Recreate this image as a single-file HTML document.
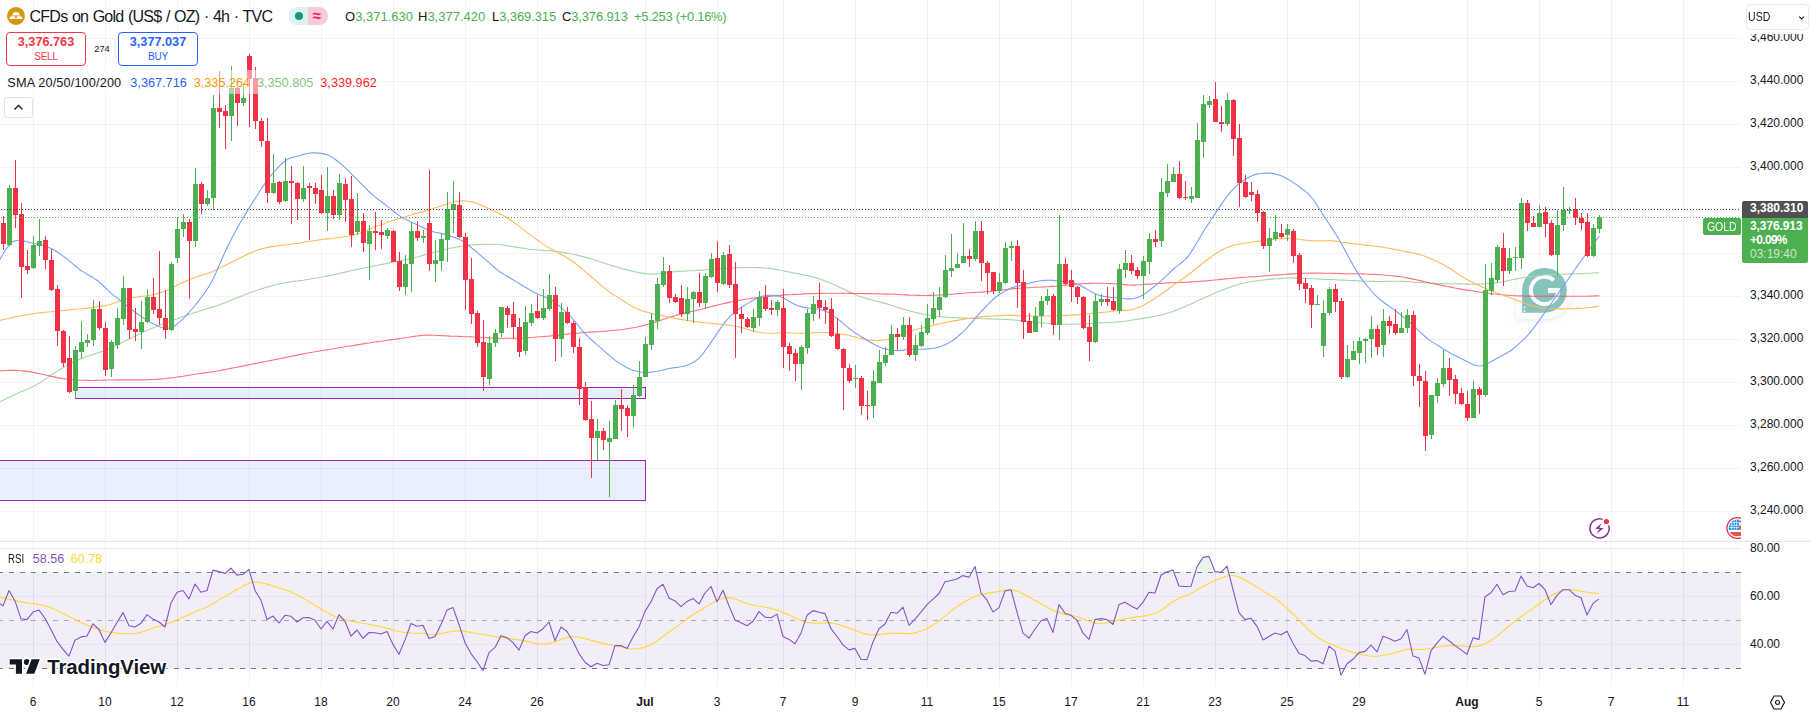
<!DOCTYPE html>
<html><head><meta charset="utf-8"><title>Gold chart</title>
<style>
html,body{margin:0;padding:0;background:#fff;}
body{width:1811px;height:712px;position:relative;overflow:hidden;font-family:"Liberation Sans",sans-serif;color:#131722;}
.abs{position:absolute;white-space:nowrap;}
.pl{position:absolute;left:1750px;font-size:12px;line-height:14px;color:#131722;}
.tl{position:absolute;top:695px;font-size:12px;line-height:14px;color:#131722;transform:translateX(-50%);}
</style></head><body>
<svg width="1811" height="712" viewBox="0 0 1811 712" style="position:absolute;left:0;top:0">
<rect width="1811" height="712" fill="#fff"/>
<defs><clipPath id="cp"><rect x="0" y="0" width="1741" height="541"/></clipPath><clipPath id="cr"><rect x="0" y="542" width="1741" height="146"/></clipPath></defs>
<rect x="33" y="0" width="1" height="687" fill="rgba(42,46,57,0.06)"/>
<rect x="105" y="0" width="1" height="687" fill="rgba(42,46,57,0.06)"/>
<rect x="177" y="0" width="1" height="687" fill="rgba(42,46,57,0.06)"/>
<rect x="249" y="0" width="1" height="687" fill="rgba(42,46,57,0.06)"/>
<rect x="321" y="0" width="1" height="687" fill="rgba(42,46,57,0.06)"/>
<rect x="393" y="0" width="1" height="687" fill="rgba(42,46,57,0.06)"/>
<rect x="465" y="0" width="1" height="687" fill="rgba(42,46,57,0.06)"/>
<rect x="537" y="0" width="1" height="687" fill="rgba(42,46,57,0.06)"/>
<rect x="645" y="0" width="1" height="687" fill="rgba(42,46,57,0.06)"/>
<rect x="717" y="0" width="1" height="687" fill="rgba(42,46,57,0.06)"/>
<rect x="783" y="0" width="1" height="687" fill="rgba(42,46,57,0.06)"/>
<rect x="855" y="0" width="1" height="687" fill="rgba(42,46,57,0.06)"/>
<rect x="927" y="0" width="1" height="687" fill="rgba(42,46,57,0.06)"/>
<rect x="999" y="0" width="1" height="687" fill="rgba(42,46,57,0.06)"/>
<rect x="1071" y="0" width="1" height="687" fill="rgba(42,46,57,0.06)"/>
<rect x="1143" y="0" width="1" height="687" fill="rgba(42,46,57,0.06)"/>
<rect x="1215" y="0" width="1" height="687" fill="rgba(42,46,57,0.06)"/>
<rect x="1287" y="0" width="1" height="687" fill="rgba(42,46,57,0.06)"/>
<rect x="1359" y="0" width="1" height="687" fill="rgba(42,46,57,0.06)"/>
<rect x="1467" y="0" width="1" height="687" fill="rgba(42,46,57,0.06)"/>
<rect x="1539" y="0" width="1" height="687" fill="rgba(42,46,57,0.06)"/>
<rect x="1611" y="0" width="1" height="687" fill="rgba(42,46,57,0.06)"/>
<rect x="1683" y="0" width="1" height="687" fill="rgba(42,46,57,0.06)"/>
<rect x="0" y="38" width="1741" height="1" fill="rgba(42,46,57,0.06)"/>
<rect x="0" y="81" width="1741" height="1" fill="rgba(42,46,57,0.06)"/>
<rect x="0" y="124" width="1741" height="1" fill="rgba(42,46,57,0.06)"/>
<rect x="0" y="167" width="1741" height="1" fill="rgba(42,46,57,0.06)"/>
<rect x="0" y="210" width="1741" height="1" fill="rgba(42,46,57,0.06)"/>
<rect x="0" y="253" width="1741" height="1" fill="rgba(42,46,57,0.06)"/>
<rect x="0" y="296" width="1741" height="1" fill="rgba(42,46,57,0.06)"/>
<rect x="0" y="339" width="1741" height="1" fill="rgba(42,46,57,0.06)"/>
<rect x="0" y="382" width="1741" height="1" fill="rgba(42,46,57,0.06)"/>
<rect x="0" y="425" width="1741" height="1" fill="rgba(42,46,57,0.06)"/>
<rect x="0" y="468" width="1741" height="1" fill="rgba(42,46,57,0.06)"/>
<rect x="0" y="511" width="1741" height="1" fill="rgba(42,46,57,0.06)"/>
<rect x="0" y="572" width="1741" height="97" fill="#7e57c2" fill-opacity="0.1"/>
<rect x="0" y="548" width="1741" height="1" fill="#e4e2f0" fill-opacity="0.9"/>
<rect x="0" y="596" width="1741" height="1" fill="#e4e2f0" fill-opacity="0.9"/>
<rect x="0" y="644" width="1741" height="1" fill="#e4e2f0" fill-opacity="0.9"/>
<rect x="33" y="572" width="1" height="97" fill="#dcd8ea" fill-opacity="0.5"/>
<rect x="105" y="572" width="1" height="97" fill="#dcd8ea" fill-opacity="0.5"/>
<rect x="177" y="572" width="1" height="97" fill="#dcd8ea" fill-opacity="0.5"/>
<rect x="249" y="572" width="1" height="97" fill="#dcd8ea" fill-opacity="0.5"/>
<rect x="321" y="572" width="1" height="97" fill="#dcd8ea" fill-opacity="0.5"/>
<rect x="393" y="572" width="1" height="97" fill="#dcd8ea" fill-opacity="0.5"/>
<rect x="465" y="572" width="1" height="97" fill="#dcd8ea" fill-opacity="0.5"/>
<rect x="537" y="572" width="1" height="97" fill="#dcd8ea" fill-opacity="0.5"/>
<rect x="645" y="572" width="1" height="97" fill="#dcd8ea" fill-opacity="0.5"/>
<rect x="717" y="572" width="1" height="97" fill="#dcd8ea" fill-opacity="0.5"/>
<rect x="783" y="572" width="1" height="97" fill="#dcd8ea" fill-opacity="0.5"/>
<rect x="855" y="572" width="1" height="97" fill="#dcd8ea" fill-opacity="0.5"/>
<rect x="927" y="572" width="1" height="97" fill="#dcd8ea" fill-opacity="0.5"/>
<rect x="999" y="572" width="1" height="97" fill="#dcd8ea" fill-opacity="0.5"/>
<rect x="1071" y="572" width="1" height="97" fill="#dcd8ea" fill-opacity="0.5"/>
<rect x="1143" y="572" width="1" height="97" fill="#dcd8ea" fill-opacity="0.5"/>
<rect x="1215" y="572" width="1" height="97" fill="#dcd8ea" fill-opacity="0.5"/>
<rect x="1287" y="572" width="1" height="97" fill="#dcd8ea" fill-opacity="0.5"/>
<rect x="1359" y="572" width="1" height="97" fill="#dcd8ea" fill-opacity="0.5"/>
<rect x="1467" y="572" width="1" height="97" fill="#dcd8ea" fill-opacity="0.5"/>
<rect x="1539" y="572" width="1" height="97" fill="#dcd8ea" fill-opacity="0.5"/>
<rect x="1611" y="572" width="1" height="97" fill="#dcd8ea" fill-opacity="0.5"/>
<rect x="1683" y="572" width="1" height="97" fill="#dcd8ea" fill-opacity="0.5"/>
<rect x="0" y="540.8" width="1811" height="1" fill="#e0e3eb"/>
<rect x="75.500" y="387.5" width="570" height="11" fill="#2962ff" fill-opacity="0.1" stroke="#9c27b0" stroke-width="1"/>
<rect x="-5.500" y="460.5" width="651" height="40" fill="#2962ff" fill-opacity="0.1" stroke="#9c27b0" stroke-width="1"/>
<defs><filter id="sh" x="-30%" y="-30%" width="160%" height="160%"><feGaussianBlur stdDeviation="2.500"/></filter></defs>
<path d="M1515.5,290.3 A29,29 0 0 1 1573.5,290.3 A29,29 0 0 1 1544.5,319.3 L1515.5,319.3 Z" transform="translate(0,2)" fill="#000" fill-opacity="0.07" filter="url(#sh)"/>
<path d="M1515.9,290.3 A28.6,28.6 0 0 1 1573.1,290.3 A28.6,28.6 0 0 1 1544.5,318.9 L1515.9,318.9 Z" fill="#fff" fill-opacity="0.8"/>
<path d="M1522.1,290.3 A22.4,22.4 0 0 1 1566.9,290.3 A22.4,22.4 0 0 1 1544.5,312.7 L1522.1,312.7 Z" fill="#80c1b9" fill-opacity="0.96"/>
<path d="M1553.8,280.3 A13.7,13.7 0 1 0 1558.2,291.8" fill="none" stroke="#fff" stroke-opacity="0.92" stroke-width="4"/>
<path d="M1548.0,288.1 L1560.5,288.1 L1559.0,293.1 L1548.0,293.1 Z" fill="#fff" fill-opacity="0.92"/>
<circle cx="1524.4" cy="307.5" r="1" fill="#fff" fill-opacity="0.9"/><circle cx="1524.4" cy="311" r="1" fill="#fff" fill-opacity="0.9"/>
<g clip-path="url(#cp)" fill="none" stroke-linejoin="round" stroke-linecap="round">
<path d="M0.0,401.8 L3.0,400.3 L6.0,398.8 L9.0,397.3 L12.0,395.9 L15.0,394.4 L18.0,393.0 L21.0,391.7 L24.0,390.4 L27.0,389.2 L30.0,387.9 L33.0,386.6 L36.0,385.0 L39.0,383.3 L42.0,381.4 L45.0,379.4 L48.0,377.4 L51.0,375.3 L54.0,373.3 L57.0,371.4 L60.0,369.5 L63.0,367.7 L66.0,365.9 L69.0,364.2 L72.0,362.7 L75.0,361.3 L78.0,360.0 L81.0,358.8 L84.0,357.7 L87.0,356.6 L90.0,355.6 L93.0,354.5 L96.0,353.5 L99.0,352.5 L102.0,351.4 L105.0,350.3 L108.0,349.2 L111.0,347.9 L114.0,346.6 L117.0,345.1 L120.0,343.6 L123.0,342.1 L126.0,340.6 L129.0,339.1 L132.0,337.7 L135.0,336.2 L138.0,334.7 L141.0,333.2 L144.0,331.8 L147.0,330.4 L150.0,329.1 L153.0,327.9 L156.0,326.7 L159.0,325.5 L162.0,324.3 L165.0,323.2 L168.0,322.0 L171.0,320.9 L174.0,319.8 L177.0,318.8 L180.0,317.7 L183.0,316.6 L186.0,315.6 L189.0,314.6 L192.0,313.6 L195.0,312.5 L198.0,311.6 L201.0,310.6 L204.0,309.6 L207.0,308.7 L210.0,307.8 L213.0,306.9 L216.0,305.9 L219.0,304.9 L222.0,303.8 L225.0,302.7 L228.0,301.5 L231.0,300.3 L234.0,299.1 L237.0,297.9 L240.0,296.7 L243.0,295.5 L246.0,294.3 L249.0,293.1 L252.0,292.0 L255.0,290.9 L258.0,289.9 L261.0,288.9 L264.0,288.0 L267.0,287.1 L270.0,286.2 L273.0,285.4 L276.0,284.7 L279.0,284.0 L282.0,283.4 L285.0,282.8 L288.0,282.3 L291.0,281.9 L294.0,281.4 L297.0,281.0 L300.0,280.6 L303.0,280.2 L306.0,279.7 L309.0,279.3 L312.0,278.8 L315.0,278.3 L318.0,277.8 L321.0,277.3 L324.0,276.7 L327.0,276.1 L330.0,275.5 L333.0,274.9 L336.0,274.2 L339.0,273.5 L342.0,272.9 L345.0,272.1 L348.0,271.4 L351.0,270.7 L354.0,270.1 L357.0,269.4 L360.0,268.8 L363.0,268.2 L366.0,267.6 L369.0,267.0 L372.0,266.4 L375.0,265.8 L378.0,265.2 L381.0,264.6 L384.0,264.0 L387.0,263.4 L390.0,262.8 L393.0,262.2 L396.0,261.6 L399.0,261.0 L402.0,260.4 L405.0,259.7 L408.0,259.1 L411.0,258.4 L414.0,257.7 L417.0,257.0 L420.0,256.2 L423.0,255.4 L426.0,254.6 L429.0,253.8 L432.0,252.9 L435.0,252.1 L438.0,251.2 L441.0,250.4 L444.0,249.7 L447.0,249.0 L450.0,248.3 L453.0,247.7 L456.0,247.2 L459.0,246.6 L462.0,246.2 L465.0,245.7 L468.0,245.4 L471.0,245.1 L474.0,244.8 L477.0,244.6 L480.0,244.4 L483.0,244.3 L486.0,244.2 L489.0,244.2 L492.0,244.2 L495.0,244.3 L498.0,244.5 L501.0,244.8 L504.0,245.2 L507.0,245.6 L510.0,246.1 L513.0,246.6 L516.0,247.1 L519.0,247.6 L522.0,248.0 L525.0,248.5 L528.0,249.0 L531.0,249.4 L534.0,249.7 L537.0,250.0 L540.0,250.2 L543.0,250.4 L546.0,250.5 L549.0,250.7 L552.0,250.9 L555.0,251.3 L558.0,251.7 L561.0,252.1 L564.0,252.6 L567.0,253.1 L570.0,253.7 L573.0,254.3 L576.0,254.9 L579.0,255.6 L582.0,256.4 L585.0,257.1 L588.0,257.9 L591.0,258.8 L594.0,259.7 L597.0,260.7 L600.0,261.7 L603.0,262.7 L606.0,263.7 L609.0,264.7 L612.0,265.6 L615.0,266.5 L618.0,267.4 L621.0,268.3 L624.0,269.1 L627.0,269.9 L630.0,270.6 L633.0,271.3 L636.0,272.0 L639.0,272.6 L642.0,273.1 L645.0,273.6 L648.0,273.9 L651.0,274.1 L654.0,274.0 L657.0,273.9 L660.0,273.5 L663.0,273.1 L666.0,272.6 L669.0,272.2 L672.0,271.9 L675.0,271.7 L678.0,271.4 L681.0,271.3 L684.0,271.1 L687.0,271.0 L690.0,270.8 L693.0,270.7 L696.0,270.5 L699.0,270.3 L702.0,270.1 L705.0,269.8 L708.0,269.5 L711.0,269.3 L714.0,269.0 L717.0,268.8 L720.0,268.6 L723.0,268.5 L726.0,268.3 L729.0,268.1 L732.0,268.0 L735.0,267.9 L738.0,267.8 L741.0,267.7 L744.0,267.6 L747.0,267.5 L750.0,267.5 L753.0,267.5 L756.0,267.5 L759.0,267.6 L762.0,267.7 L765.0,268.0 L768.0,268.2 L771.0,268.6 L774.0,269.1 L777.0,269.6 L780.0,270.2 L783.0,270.8 L786.0,271.4 L789.0,272.0 L792.0,272.6 L795.0,273.2 L798.0,273.8 L801.0,274.4 L804.0,275.0 L807.0,275.6 L810.0,276.3 L813.0,277.0 L816.0,277.9 L819.0,278.8 L822.0,279.8 L825.0,280.9 L828.0,282.1 L831.0,283.3 L834.0,284.6 L837.0,286.0 L840.0,287.4 L843.0,288.8 L846.0,290.3 L849.0,291.7 L852.0,293.1 L855.0,294.5 L858.0,295.7 L861.0,296.8 L864.0,297.7 L867.0,298.6 L870.0,299.5 L873.0,300.3 L876.0,301.1 L879.0,301.8 L882.0,302.6 L885.0,303.4 L888.0,304.3 L891.0,305.3 L894.0,306.2 L897.0,307.2 L900.0,308.1 L903.0,309.0 L906.0,309.9 L909.0,310.7 L912.0,311.5 L915.0,312.3 L918.0,313.0 L921.0,313.7 L924.0,314.3 L927.0,314.9 L930.0,315.4 L933.0,315.8 L936.0,316.3 L939.0,316.6 L942.0,316.9 L945.0,317.1 L948.0,317.3 L951.0,317.5 L954.0,317.6 L957.0,317.8 L960.0,317.9 L963.0,318.0 L966.0,318.1 L969.0,318.2 L972.0,318.4 L975.0,318.5 L978.0,318.6 L981.0,318.7 L984.0,318.8 L987.0,318.9 L990.0,318.9 L993.0,319.0 L996.0,319.1 L999.0,319.2 L1002.0,319.3 L1005.0,319.4 L1008.0,319.6 L1011.0,319.8 L1014.0,320.0 L1017.0,320.3 L1020.0,320.6 L1023.0,320.9 L1026.0,321.2 L1029.0,321.5 L1032.0,321.8 L1035.0,322.1 L1038.0,322.4 L1041.0,322.7 L1044.0,323.0 L1047.0,323.3 L1050.0,323.5 L1053.0,323.8 L1056.0,324.0 L1059.0,324.1 L1062.0,324.2 L1065.0,324.3 L1068.0,324.3 L1071.0,324.3 L1074.0,324.2 L1077.0,324.1 L1080.0,324.0 L1083.0,323.8 L1086.0,323.7 L1089.0,323.5 L1092.0,323.4 L1095.0,323.2 L1098.0,323.0 L1101.0,322.9 L1104.0,322.8 L1107.0,322.6 L1110.0,322.5 L1113.0,322.3 L1116.0,322.2 L1119.0,321.9 L1122.0,321.7 L1125.0,321.3 L1128.0,320.8 L1131.0,320.3 L1134.0,319.8 L1137.0,319.3 L1140.0,318.9 L1143.0,318.4 L1146.0,317.9 L1149.0,317.4 L1152.0,316.9 L1155.0,316.3 L1158.0,315.7 L1161.0,315.1 L1164.0,314.3 L1167.0,313.5 L1170.0,312.5 L1173.0,311.4 L1176.0,310.2 L1179.0,309.0 L1182.0,307.8 L1185.0,306.5 L1188.0,305.2 L1191.0,303.9 L1194.0,302.5 L1197.0,301.1 L1200.0,299.8 L1203.0,298.4 L1206.0,297.1 L1209.0,295.7 L1212.0,294.4 L1215.0,293.1 L1218.0,291.8 L1221.0,290.6 L1224.0,289.4 L1227.0,288.3 L1230.0,287.2 L1233.0,286.1 L1236.0,285.2 L1239.0,284.3 L1242.0,283.5 L1245.0,282.8 L1248.0,282.3 L1251.0,281.7 L1254.0,281.2 L1257.0,280.7 L1260.0,280.3 L1263.0,280.0 L1266.0,279.7 L1269.0,279.4 L1272.0,279.1 L1275.0,278.8 L1278.0,278.6 L1281.0,278.4 L1284.0,278.2 L1287.0,278.0 L1290.0,277.9 L1293.0,277.8 L1296.0,277.9 L1299.0,278.0 L1302.0,278.2 L1305.0,278.3 L1308.0,278.5 L1311.0,278.7 L1314.0,278.8 L1317.0,279.0 L1320.0,279.1 L1323.0,279.2 L1326.0,279.4 L1329.0,279.5 L1332.0,279.6 L1335.0,279.7 L1338.0,279.9 L1341.0,280.0 L1344.0,280.1 L1347.0,280.3 L1350.0,280.5 L1353.0,280.6 L1356.0,280.8 L1359.0,280.9 L1362.0,281.1 L1365.0,281.2 L1368.0,281.3 L1371.0,281.4 L1374.0,281.4 L1377.0,281.5 L1380.0,281.5 L1383.0,281.5 L1386.0,281.4 L1389.0,281.4 L1392.0,281.3 L1395.0,281.2 L1398.0,281.2 L1401.0,281.2 L1404.0,281.4 L1407.0,281.6 L1410.0,281.8 L1413.0,282.1 L1416.0,282.3 L1419.0,282.5 L1422.0,282.6 L1425.0,282.8 L1428.0,282.9 L1431.0,283.1 L1434.0,283.2 L1437.0,283.4 L1440.0,283.5 L1443.0,283.6 L1446.0,283.7 L1449.0,283.8 L1452.0,283.8 L1455.0,283.8 L1458.0,283.9 L1461.0,283.9 L1464.0,284.0 L1467.0,284.1 L1470.0,284.2 L1473.0,284.2 L1476.0,284.2 L1479.0,284.1 L1482.0,284.0 L1485.0,283.8 L1488.0,283.6 L1491.0,283.4 L1494.0,283.1 L1497.0,282.7 L1500.0,282.3 L1503.0,281.8 L1506.0,281.2 L1509.0,280.5 L1512.0,279.8 L1515.0,279.2 L1518.0,278.6 L1521.0,278.0 L1524.0,277.5 L1527.0,277.1 L1530.0,276.6 L1533.0,276.2 L1536.0,275.9 L1539.0,275.6 L1542.0,275.3 L1545.0,275.0 L1548.0,274.8 L1551.0,274.6 L1554.0,274.5 L1557.0,274.4 L1560.0,274.3 L1563.0,274.2 L1566.0,274.1 L1569.0,274.0 L1572.0,273.9 L1575.0,273.8 L1578.0,273.7 L1581.0,273.6 L1584.0,273.5 L1587.0,273.3 L1590.0,273.2 L1593.0,273.0 L1596.0,272.9 L1599.0,272.7" stroke="#a5d6a7" stroke-width="1.1"/>
<path d="M0.0,370.8 L3.0,370.7 L6.0,370.5 L9.0,370.4 L12.0,370.4 L15.0,370.4 L18.0,370.5 L21.0,370.8 L24.0,371.1 L27.0,371.4 L30.0,371.9 L33.0,372.4 L36.0,372.9 L39.0,373.5 L42.0,374.2 L45.0,374.8 L48.0,375.5 L51.0,376.2 L54.0,376.9 L57.0,377.6 L60.0,378.1 L63.0,378.6 L66.0,379.0 L69.0,379.4 L72.0,379.7 L75.0,379.9 L78.0,380.1 L81.0,380.2 L84.0,380.3 L87.0,380.4 L90.0,380.5 L93.0,380.5 L96.0,380.4 L99.0,380.3 L102.0,380.2 L105.0,380.1 L108.0,380.0 L111.0,380.0 L114.0,380.0 L117.0,379.9 L120.0,379.9 L123.0,379.9 L126.0,379.9 L129.0,379.9 L132.0,379.9 L135.0,379.9 L138.0,379.9 L141.0,379.9 L144.0,379.9 L147.0,379.8 L150.0,379.6 L153.0,379.5 L156.0,379.3 L159.0,379.1 L162.0,378.9 L165.0,378.6 L168.0,378.2 L171.0,377.9 L174.0,377.5 L177.0,377.0 L180.0,376.6 L183.0,376.2 L186.0,375.7 L189.0,375.2 L192.0,374.8 L195.0,374.3 L198.0,373.8 L201.0,373.4 L204.0,372.9 L207.0,372.5 L210.0,372.1 L213.0,371.6 L216.0,371.2 L219.0,370.7 L222.0,370.1 L225.0,369.6 L228.0,369.0 L231.0,368.4 L234.0,367.8 L237.0,367.2 L240.0,366.6 L243.0,366.0 L246.0,365.4 L249.0,364.8 L252.0,364.2 L255.0,363.6 L258.0,363.0 L261.0,362.4 L264.0,361.8 L267.0,361.2 L270.0,360.6 L273.0,360.0 L276.0,359.4 L279.0,358.8 L282.0,358.2 L285.0,357.6 L288.0,357.0 L291.0,356.4 L294.0,355.7 L297.0,355.1 L300.0,354.5 L303.0,353.9 L306.0,353.3 L309.0,352.8 L312.0,352.3 L315.0,351.8 L318.0,351.2 L321.0,350.7 L324.0,350.2 L327.0,349.7 L330.0,349.2 L333.0,348.7 L336.0,348.2 L339.0,347.8 L342.0,347.3 L345.0,346.8 L348.0,346.3 L351.0,345.8 L354.0,345.4 L357.0,344.9 L360.0,344.4 L363.0,343.9 L366.0,343.4 L369.0,343.0 L372.0,342.5 L375.0,342.0 L378.0,341.6 L381.0,341.2 L384.0,340.7 L387.0,340.3 L390.0,339.9 L393.0,339.5 L396.0,339.1 L399.0,338.6 L402.0,338.2 L405.0,337.7 L408.0,337.3 L411.0,336.8 L414.0,336.4 L417.0,336.0 L420.0,335.6 L423.0,335.3 L426.0,335.1 L429.0,335.1 L432.0,335.2 L435.0,335.3 L438.0,335.5 L441.0,335.6 L444.0,335.8 L447.0,335.9 L450.0,336.1 L453.0,336.2 L456.0,336.3 L459.0,336.4 L462.0,336.6 L465.0,336.7 L468.0,336.8 L471.0,336.9 L474.0,337.0 L477.0,337.2 L480.0,337.3 L483.0,337.5 L486.0,337.6 L489.0,337.8 L492.0,338.0 L495.0,338.1 L498.0,338.2 L501.0,338.3 L504.0,338.3 L507.0,338.3 L510.0,338.3 L513.0,338.3 L516.0,338.2 L519.0,338.1 L522.0,338.0 L525.0,337.8 L528.0,337.6 L531.0,337.5 L534.0,337.3 L537.0,337.0 L540.0,336.8 L543.0,336.6 L546.0,336.3 L549.0,336.1 L552.0,335.8 L555.0,335.5 L558.0,335.2 L561.0,334.8 L564.0,334.5 L567.0,334.1 L570.0,333.8 L573.0,333.5 L576.0,333.2 L579.0,333.0 L582.0,332.7 L585.0,332.5 L588.0,332.3 L591.0,332.1 L594.0,331.9 L597.0,331.7 L600.0,331.5 L603.0,331.3 L606.0,331.1 L609.0,330.8 L612.0,330.6 L615.0,330.3 L618.0,330.0 L621.0,329.7 L624.0,329.3 L627.0,328.8 L630.0,328.3 L633.0,327.8 L636.0,327.2 L639.0,326.5 L642.0,325.9 L645.0,325.1 L648.0,324.3 L651.0,323.4 L654.0,322.5 L657.0,321.6 L660.0,320.6 L663.0,319.5 L666.0,318.5 L669.0,317.5 L672.0,316.6 L675.0,315.8 L678.0,314.9 L681.0,314.2 L684.0,313.4 L687.0,312.7 L690.0,311.9 L693.0,311.2 L696.0,310.5 L699.0,309.7 L702.0,309.0 L705.0,308.2 L708.0,307.4 L711.0,306.7 L714.0,305.9 L717.0,305.2 L720.0,304.5 L723.0,303.8 L726.0,303.1 L729.0,302.4 L732.0,301.8 L735.0,301.2 L738.0,300.6 L741.0,300.0 L744.0,299.5 L747.0,299.0 L750.0,298.5 L753.0,298.1 L756.0,297.7 L759.0,297.3 L762.0,297.0 L765.0,296.7 L768.0,296.4 L771.0,296.1 L774.0,295.9 L777.0,295.6 L780.0,295.4 L783.0,295.1 L786.0,294.9 L789.0,294.7 L792.0,294.6 L795.0,294.4 L798.0,294.2 L801.0,294.1 L804.0,293.9 L807.0,293.8 L810.0,293.7 L813.0,293.6 L816.0,293.5 L819.0,293.4 L822.0,293.4 L825.0,293.3 L828.0,293.3 L831.0,293.3 L834.0,293.3 L837.0,293.3 L840.0,293.3 L843.0,293.3 L846.0,293.3 L849.0,293.4 L852.0,293.4 L855.0,293.5 L858.0,293.5 L861.0,293.5 L864.0,293.6 L867.0,293.6 L870.0,293.6 L873.0,293.7 L876.0,293.8 L879.0,293.9 L882.0,294.0 L885.0,294.1 L888.0,294.1 L891.0,294.2 L894.0,294.3 L897.0,294.4 L900.0,294.6 L903.0,294.7 L906.0,294.9 L909.0,295.1 L912.0,295.2 L915.0,295.3 L918.0,295.4 L921.0,295.5 L924.0,295.5 L927.0,295.5 L930.0,295.4 L933.0,295.3 L936.0,295.2 L939.0,295.0 L942.0,294.9 L945.0,294.7 L948.0,294.5 L951.0,294.3 L954.0,294.1 L957.0,293.8 L960.0,293.5 L963.0,293.3 L966.0,293.0 L969.0,292.8 L972.0,292.6 L975.0,292.5 L978.0,292.3 L981.0,292.2 L984.0,291.9 L987.0,291.7 L990.0,291.4 L993.0,291.0 L996.0,290.7 L999.0,290.3 L1002.0,289.9 L1005.0,289.6 L1008.0,289.2 L1011.0,288.9 L1014.0,288.6 L1017.0,288.4 L1020.0,288.2 L1023.0,288.0 L1026.0,287.8 L1029.0,287.7 L1032.0,287.5 L1035.0,287.3 L1038.0,287.2 L1041.0,287.0 L1044.0,286.9 L1047.0,286.7 L1050.0,286.6 L1053.0,286.4 L1056.0,286.2 L1059.0,285.9 L1062.0,285.6 L1065.0,285.3 L1068.0,285.0 L1071.0,284.7 L1074.0,284.4 L1077.0,284.2 L1080.0,283.9 L1083.0,283.7 L1086.0,283.5 L1089.0,283.4 L1092.0,283.3 L1095.0,283.2 L1098.0,283.2 L1101.0,283.3 L1104.0,283.3 L1107.0,283.5 L1110.0,283.6 L1113.0,283.8 L1116.0,283.9 L1119.0,284.1 L1122.0,284.4 L1125.0,284.6 L1128.0,284.9 L1131.0,285.0 L1134.0,285.1 L1137.0,285.0 L1140.0,284.8 L1143.0,284.6 L1146.0,284.3 L1149.0,284.1 L1152.0,283.9 L1155.0,283.7 L1158.0,283.5 L1161.0,283.4 L1164.0,283.2 L1167.0,283.0 L1170.0,282.9 L1173.0,282.8 L1176.0,282.6 L1179.0,282.5 L1182.0,282.4 L1185.0,282.2 L1188.0,282.1 L1191.0,281.9 L1194.0,281.7 L1197.0,281.6 L1200.0,281.3 L1203.0,281.1 L1206.0,280.9 L1209.0,280.6 L1212.0,280.3 L1215.0,280.0 L1218.0,279.7 L1221.0,279.4 L1224.0,279.1 L1227.0,278.8 L1230.0,278.5 L1233.0,278.2 L1236.0,277.9 L1239.0,277.7 L1242.0,277.4 L1245.0,277.2 L1248.0,277.0 L1251.0,276.9 L1254.0,276.7 L1257.0,276.5 L1260.0,276.3 L1263.0,276.0 L1266.0,275.8 L1269.0,275.6 L1272.0,275.3 L1275.0,275.1 L1278.0,274.9 L1281.0,274.7 L1284.0,274.5 L1287.0,274.3 L1290.0,274.1 L1293.0,273.9 L1296.0,273.7 L1299.0,273.5 L1302.0,273.3 L1305.0,273.2 L1308.0,273.2 L1311.0,273.1 L1314.0,273.1 L1317.0,273.1 L1320.0,273.1 L1323.0,273.2 L1326.0,273.2 L1329.0,273.2 L1332.0,273.3 L1335.0,273.4 L1338.0,273.5 L1341.0,273.6 L1344.0,273.7 L1347.0,273.7 L1350.0,273.7 L1353.0,273.7 L1356.0,273.8 L1359.0,273.8 L1362.0,273.9 L1365.0,274.0 L1368.0,274.2 L1371.0,274.3 L1374.0,274.4 L1377.0,274.6 L1380.0,274.8 L1383.0,275.0 L1386.0,275.2 L1389.0,275.5 L1392.0,275.7 L1395.0,276.1 L1398.0,276.4 L1401.0,276.8 L1404.0,277.3 L1407.0,277.9 L1410.0,278.5 L1413.0,279.1 L1416.0,279.7 L1419.0,280.4 L1422.0,281.1 L1425.0,281.8 L1428.0,282.5 L1431.0,283.2 L1434.0,283.8 L1437.0,284.4 L1440.0,285.0 L1443.0,285.6 L1446.0,286.2 L1449.0,286.8 L1452.0,287.4 L1455.0,288.0 L1458.0,288.5 L1461.0,289.1 L1464.0,289.6 L1467.0,290.1 L1470.0,290.6 L1473.0,291.0 L1476.0,291.5 L1479.0,292.0 L1482.0,292.4 L1485.0,292.9 L1488.0,293.3 L1491.0,293.6 L1494.0,294.0 L1497.0,294.3 L1500.0,294.6 L1503.0,294.8 L1506.0,295.1 L1509.0,295.3 L1512.0,295.5 L1515.0,295.7 L1518.0,295.9 L1521.0,295.9 L1524.0,296.0 L1527.0,296.1 L1530.0,296.1 L1533.0,296.2 L1536.0,296.2 L1539.0,296.3 L1542.0,296.3 L1545.0,296.3 L1548.0,296.3 L1551.0,296.3 L1554.0,296.3 L1557.0,296.3 L1560.0,296.3 L1563.0,296.3 L1566.0,296.3 L1569.0,296.3 L1572.0,296.3 L1575.0,296.3 L1578.0,296.3 L1581.0,296.3 L1584.0,296.2 L1587.0,296.2 L1590.0,296.1 L1593.0,296.0 L1596.0,295.9 L1599.0,295.8" stroke="#ff3b47" stroke-width="1.1" stroke-opacity="0.72"/>
<path d="M0.0,320.4 L3.0,319.7 L6.0,319.0 L9.0,318.3 L12.0,317.6 L15.0,316.9 L18.0,316.2 L21.0,315.7 L24.0,315.2 L27.0,314.7 L30.0,314.2 L33.0,313.7 L36.0,313.3 L39.0,312.9 L42.0,312.6 L45.0,312.3 L48.0,312.0 L51.0,311.7 L54.0,311.4 L57.0,311.1 L60.0,310.8 L63.0,310.5 L66.0,310.2 L69.0,309.9 L72.0,309.6 L75.0,309.3 L78.0,309.0 L81.0,308.7 L84.0,308.4 L87.0,308.1 L90.0,307.7 L93.0,307.4 L96.0,307.0 L99.0,306.6 L102.0,306.1 L105.0,305.6 L108.0,305.0 L111.0,304.2 L114.0,303.1 L117.0,301.9 L120.0,300.7 L123.0,299.7 L126.0,298.9 L129.0,298.2 L132.0,297.7 L135.0,297.3 L138.0,296.9 L141.0,296.4 L144.0,296.1 L147.0,295.7 L150.0,295.2 L153.0,294.7 L156.0,294.0 L159.0,293.1 L162.0,292.2 L165.0,291.2 L168.0,290.0 L171.0,288.6 L174.0,287.0 L177.0,285.3 L180.0,283.7 L183.0,282.2 L186.0,280.9 L189.0,279.7 L192.0,278.6 L195.0,277.5 L198.0,276.5 L201.0,275.5 L204.0,274.6 L207.0,273.6 L210.0,272.6 L213.0,271.4 L216.0,270.0 L219.0,268.6 L222.0,267.1 L225.0,265.6 L228.0,264.1 L231.0,262.6 L234.0,261.1 L237.0,259.6 L240.0,258.1 L243.0,256.6 L246.0,255.1 L249.0,253.6 L252.0,252.2 L255.0,251.0 L258.0,249.9 L261.0,249.0 L264.0,248.3 L267.0,247.6 L270.0,246.9 L273.0,246.4 L276.0,246.0 L279.0,245.6 L282.0,245.2 L285.0,244.9 L288.0,244.5 L291.0,244.1 L294.0,243.8 L297.0,243.4 L300.0,243.0 L303.0,242.5 L306.0,242.0 L309.0,241.5 L312.0,241.0 L315.0,240.5 L318.0,240.1 L321.0,239.6 L324.0,239.3 L327.0,238.9 L330.0,238.5 L333.0,238.2 L336.0,237.8 L339.0,237.4 L342.0,237.0 L345.0,236.5 L348.0,236.1 L351.0,235.6 L354.0,234.9 L357.0,234.0 L360.0,232.9 L363.0,231.7 L366.0,230.6 L369.0,229.4 L372.0,228.2 L375.0,227.0 L378.0,225.9 L381.0,224.8 L384.0,223.7 L387.0,222.6 L390.0,221.6 L393.0,220.6 L396.0,219.6 L399.0,218.6 L402.0,217.7 L405.0,216.8 L408.0,215.8 L411.0,215.0 L414.0,214.1 L417.0,213.2 L420.0,212.4 L423.0,211.7 L426.0,210.9 L429.0,210.1 L432.0,209.1 L435.0,208.1 L438.0,207.1 L441.0,206.0 L444.0,204.9 L447.0,203.9 L450.0,203.0 L453.0,202.2 L456.0,201.5 L459.0,201.1 L462.0,200.9 L465.0,200.9 L468.0,201.2 L471.0,201.7 L474.0,202.4 L477.0,203.4 L480.0,204.6 L483.0,205.9 L486.0,207.3 L489.0,208.7 L492.0,210.1 L495.0,211.5 L498.0,212.8 L501.0,214.3 L504.0,215.9 L507.0,217.7 L510.0,219.7 L513.0,221.9 L516.0,224.1 L519.0,226.4 L522.0,228.6 L525.0,230.9 L528.0,233.1 L531.0,235.4 L534.0,237.6 L537.0,239.7 L540.0,241.8 L543.0,243.9 L546.0,245.9 L549.0,247.8 L552.0,249.6 L555.0,251.1 L558.0,252.7 L561.0,254.3 L564.0,256.0 L567.0,257.8 L570.0,259.8 L573.0,261.8 L576.0,264.0 L579.0,266.3 L582.0,268.7 L585.0,271.3 L588.0,273.9 L591.0,276.5 L594.0,279.1 L597.0,281.7 L600.0,284.3 L603.0,286.9 L606.0,289.3 L609.0,291.6 L612.0,293.7 L615.0,295.6 L618.0,297.5 L621.0,299.4 L624.0,301.2 L627.0,303.1 L630.0,305.0 L633.0,306.7 L636.0,308.3 L639.0,309.6 L642.0,310.7 L645.0,311.6 L648.0,312.5 L651.0,313.3 L654.0,314.0 L657.0,314.7 L660.0,315.3 L663.0,315.9 L666.0,316.5 L669.0,317.1 L672.0,317.7 L675.0,318.3 L678.0,318.9 L681.0,319.4 L684.0,320.0 L687.0,320.5 L690.0,320.9 L693.0,321.3 L696.0,321.7 L699.0,322.1 L702.0,322.4 L705.0,322.7 L708.0,323.0 L711.0,323.3 L714.0,323.6 L717.0,323.9 L720.0,324.2 L723.0,324.6 L726.0,324.9 L729.0,325.3 L732.0,325.8 L735.0,326.2 L738.0,326.8 L741.0,327.5 L744.0,328.3 L747.0,329.2 L750.0,330.1 L753.0,331.0 L756.0,331.8 L759.0,332.3 L762.0,332.7 L765.0,333.0 L768.0,333.2 L771.0,333.3 L774.0,333.2 L777.0,333.0 L780.0,332.8 L783.0,332.7 L786.0,332.7 L789.0,332.8 L792.0,333.0 L795.0,333.2 L798.0,333.3 L801.0,333.4 L804.0,333.3 L807.0,333.2 L810.0,333.0 L813.0,332.8 L816.0,332.6 L819.0,332.5 L822.0,332.4 L825.0,332.5 L828.0,332.6 L831.0,332.9 L834.0,333.1 L837.0,333.5 L840.0,333.8 L843.0,334.3 L846.0,334.8 L849.0,335.5 L852.0,336.2 L855.0,336.9 L858.0,337.7 L861.0,338.4 L864.0,339.1 L867.0,339.7 L870.0,340.1 L873.0,340.4 L876.0,340.5 L879.0,340.4 L882.0,340.2 L885.0,339.8 L888.0,339.2 L891.0,338.4 L894.0,337.4 L897.0,336.3 L900.0,335.1 L903.0,333.8 L906.0,332.6 L909.0,331.6 L912.0,330.6 L915.0,329.8 L918.0,329.1 L921.0,328.3 L924.0,327.6 L927.0,326.8 L930.0,326.1 L933.0,325.3 L936.0,324.6 L939.0,323.9 L942.0,323.2 L945.0,322.6 L948.0,322.0 L951.0,321.4 L954.0,320.9 L957.0,320.4 L960.0,319.9 L963.0,319.4 L966.0,318.9 L969.0,318.5 L972.0,318.1 L975.0,317.6 L978.0,317.2 L981.0,316.9 L984.0,316.6 L987.0,316.4 L990.0,316.2 L993.0,316.0 L996.0,315.9 L999.0,315.7 L1002.0,315.6 L1005.0,315.5 L1008.0,315.4 L1011.0,315.4 L1014.0,315.5 L1017.0,315.6 L1020.0,315.7 L1023.0,315.8 L1026.0,315.9 L1029.0,315.9 L1032.0,316.0 L1035.0,316.1 L1038.0,316.1 L1041.0,316.1 L1044.0,316.0 L1047.0,316.0 L1050.0,315.9 L1053.0,315.8 L1056.0,315.7 L1059.0,315.6 L1062.0,315.5 L1065.0,315.4 L1068.0,315.2 L1071.0,315.1 L1074.0,314.9 L1077.0,314.7 L1080.0,314.5 L1083.0,314.3 L1086.0,314.0 L1089.0,313.7 L1092.0,313.4 L1095.0,313.1 L1098.0,312.8 L1101.0,312.5 L1104.0,312.2 L1107.0,311.9 L1110.0,311.6 L1113.0,311.2 L1116.0,310.8 L1119.0,310.5 L1122.0,310.2 L1125.0,310.1 L1128.0,310.1 L1131.0,309.8 L1134.0,309.1 L1137.0,308.1 L1140.0,306.8 L1143.0,305.4 L1146.0,303.8 L1149.0,302.1 L1152.0,300.3 L1155.0,298.4 L1158.0,296.4 L1161.0,294.3 L1164.0,292.2 L1167.0,290.0 L1170.0,287.7 L1173.0,285.6 L1176.0,283.4 L1179.0,281.4 L1182.0,279.3 L1185.0,277.2 L1188.0,275.0 L1191.0,272.7 L1194.0,270.3 L1197.0,267.9 L1200.0,265.5 L1203.0,263.1 L1206.0,260.7 L1209.0,258.5 L1212.0,256.2 L1215.0,254.1 L1218.0,252.2 L1221.0,250.4 L1224.0,248.9 L1227.0,247.6 L1230.0,246.5 L1233.0,245.6 L1236.0,244.8 L1239.0,244.2 L1242.0,243.7 L1245.0,243.2 L1248.0,242.7 L1251.0,242.3 L1254.0,241.8 L1257.0,241.4 L1260.0,241.1 L1263.0,240.7 L1266.0,240.3 L1269.0,239.9 L1272.0,239.5 L1275.0,239.2 L1278.0,238.8 L1281.0,238.6 L1284.0,238.4 L1287.0,238.3 L1290.0,238.4 L1293.0,238.6 L1296.0,238.9 L1299.0,239.3 L1302.0,239.7 L1305.0,240.1 L1308.0,240.4 L1311.0,240.6 L1314.0,240.7 L1317.0,240.8 L1320.0,240.9 L1323.0,240.8 L1326.0,240.7 L1329.0,240.7 L1332.0,240.8 L1335.0,241.1 L1338.0,241.5 L1341.0,242.0 L1344.0,242.4 L1347.0,242.8 L1350.0,243.2 L1353.0,243.6 L1356.0,243.9 L1359.0,244.3 L1362.0,244.7 L1365.0,245.1 L1368.0,245.4 L1371.0,245.7 L1374.0,246.0 L1377.0,246.4 L1380.0,246.7 L1383.0,247.2 L1386.0,247.7 L1389.0,248.3 L1392.0,248.9 L1395.0,249.5 L1398.0,250.1 L1401.0,250.7 L1404.0,251.3 L1407.0,251.9 L1410.0,252.5 L1413.0,253.1 L1416.0,253.7 L1419.0,254.4 L1422.0,255.3 L1425.0,256.3 L1428.0,257.5 L1431.0,258.8 L1434.0,260.2 L1437.0,261.6 L1440.0,263.1 L1443.0,264.6 L1446.0,266.2 L1449.0,267.9 L1452.0,269.8 L1455.0,271.9 L1458.0,274.0 L1461.0,276.0 L1464.0,277.8 L1467.0,279.4 L1470.0,281.0 L1473.0,282.5 L1476.0,284.0 L1479.0,285.4 L1482.0,286.9 L1485.0,288.2 L1488.0,289.4 L1491.0,290.6 L1494.0,291.7 L1497.0,292.9 L1500.0,294.0 L1503.0,295.1 L1506.0,296.2 L1509.0,297.4 L1512.0,298.5 L1515.0,299.6 L1518.0,300.7 L1521.0,301.9 L1524.0,303.0 L1527.0,304.1 L1530.0,305.1 L1533.0,306.0 L1536.0,306.8 L1539.0,307.4 L1542.0,308.0 L1545.0,308.3 L1548.0,308.6 L1551.0,308.7 L1554.0,308.8 L1557.0,308.9 L1560.0,308.9 L1563.0,308.9 L1566.0,308.8 L1569.0,308.8 L1572.0,308.7 L1575.0,308.6 L1578.0,308.4 L1581.0,308.2 L1584.0,308.0 L1587.0,307.8 L1590.0,307.5 L1593.0,307.1 L1596.0,306.6 L1599.0,306.0" stroke="#ffbb5c" stroke-width="1.1"/>
<path d="M0.0,259.5 L3.0,254.0 L6.0,249.1 L9.0,245.1 L12.0,242.3 L15.0,240.8 L18.0,240.3 L21.0,240.5 L24.0,241.1 L27.0,241.8 L30.0,242.5 L33.0,243.3 L36.0,244.0 L39.0,244.8 L42.0,245.5 L45.0,246.3 L48.0,247.2 L51.0,248.4 L54.0,249.9 L57.0,251.8 L60.0,253.8 L63.0,255.9 L66.0,258.2 L69.0,260.6 L72.0,263.2 L75.0,265.8 L78.0,268.2 L81.0,270.5 L84.0,272.4 L87.0,274.2 L90.0,275.9 L93.0,277.6 L96.0,279.5 L99.0,281.8 L102.0,284.5 L105.0,287.5 L108.0,290.4 L111.0,293.1 L114.0,295.6 L117.0,297.9 L120.0,300.2 L123.0,302.5 L126.0,305.0 L129.0,307.4 L132.0,309.8 L135.0,312.2 L138.0,314.3 L141.0,316.4 L144.0,318.3 L147.0,320.1 L150.0,321.9 L153.0,323.6 L156.0,325.1 L159.0,326.5 L162.0,327.5 L165.0,328.0 L168.0,328.2 L171.0,327.6 L174.0,326.3 L177.0,324.1 L180.0,321.6 L183.0,318.8 L186.0,315.7 L189.0,312.4 L192.0,309.0 L195.0,305.5 L198.0,301.7 L201.0,297.8 L204.0,293.7 L207.0,289.5 L210.0,284.7 L213.0,279.1 L216.0,272.7 L219.0,265.8 L222.0,258.8 L225.0,252.1 L228.0,245.7 L231.0,239.8 L234.0,234.1 L237.0,228.5 L240.0,223.1 L243.0,218.0 L246.0,213.1 L249.0,208.2 L252.0,203.5 L255.0,198.7 L258.0,194.0 L261.0,189.3 L264.0,184.9 L267.0,180.7 L270.0,176.7 L273.0,173.0 L276.0,169.6 L279.0,166.4 L282.0,163.5 L285.0,161.0 L288.0,159.1 L291.0,157.8 L294.0,157.0 L297.0,156.2 L300.0,155.5 L303.0,154.6 L306.0,153.8 L309.0,153.2 L312.0,152.9 L315.0,152.9 L318.0,153.1 L321.0,153.4 L324.0,153.9 L327.0,154.7 L330.0,156.1 L333.0,157.9 L336.0,160.0 L339.0,162.3 L342.0,164.8 L345.0,167.7 L348.0,170.6 L351.0,173.6 L354.0,176.6 L357.0,179.6 L360.0,182.6 L363.0,185.6 L366.0,188.6 L369.0,191.5 L372.0,194.3 L375.0,196.9 L378.0,199.2 L381.0,201.5 L384.0,203.8 L387.0,206.1 L390.0,208.4 L393.0,210.8 L396.0,213.2 L399.0,215.4 L402.0,217.4 L405.0,219.1 L408.0,220.6 L411.0,221.9 L414.0,223.3 L417.0,224.7 L420.0,226.2 L423.0,227.7 L426.0,229.1 L429.0,230.4 L432.0,231.4 L435.0,232.2 L438.0,232.8 L441.0,233.4 L444.0,234.1 L447.0,234.9 L450.0,235.9 L453.0,236.9 L456.0,238.0 L459.0,239.2 L462.0,240.8 L465.0,242.8 L468.0,245.0 L471.0,247.4 L474.0,249.8 L477.0,252.3 L480.0,254.8 L483.0,257.4 L486.0,260.1 L489.0,262.7 L492.0,265.4 L495.0,268.0 L498.0,270.4 L501.0,272.5 L504.0,274.4 L507.0,276.2 L510.0,278.0 L513.0,279.8 L516.0,281.6 L519.0,283.4 L522.0,285.2 L525.0,287.0 L528.0,288.8 L531.0,290.6 L534.0,292.2 L537.0,293.6 L540.0,294.9 L543.0,296.1 L546.0,297.4 L549.0,298.7 L552.0,300.3 L555.0,302.4 L558.0,304.8 L561.0,307.5 L564.0,310.2 L567.0,313.0 L570.0,315.9 L573.0,319.2 L576.0,322.8 L579.0,326.5 L582.0,330.1 L585.0,333.5 L588.0,336.6 L591.0,339.4 L594.0,342.1 L597.0,344.7 L600.0,347.3 L603.0,349.9 L606.0,352.6 L609.0,355.2 L612.0,357.7 L615.0,360.1 L618.0,362.2 L621.0,364.1 L624.0,366.0 L627.0,367.7 L630.0,369.1 L633.0,370.2 L636.0,371.0 L639.0,371.7 L642.0,372.3 L645.0,372.5 L648.0,372.4 L651.0,372.1 L654.0,371.7 L657.0,371.3 L660.0,370.7 L663.0,370.0 L666.0,369.2 L669.0,368.5 L672.0,368.0 L675.0,367.6 L678.0,367.3 L681.0,366.8 L684.0,366.2 L687.0,365.2 L690.0,364.0 L693.0,362.5 L696.0,360.7 L699.0,358.2 L702.0,354.8 L705.0,350.8 L708.0,346.6 L711.0,342.4 L714.0,338.0 L717.0,333.6 L720.0,329.1 L723.0,324.8 L726.0,320.9 L729.0,317.5 L732.0,314.7 L735.0,312.2 L738.0,309.9 L741.0,307.7 L744.0,305.7 L747.0,303.9 L750.0,302.1 L753.0,300.4 L756.0,298.8 L759.0,297.3 L762.0,296.2 L765.0,295.6 L768.0,295.3 L771.0,295.2 L774.0,295.4 L777.0,295.8 L780.0,296.6 L783.0,297.8 L786.0,299.4 L789.0,301.3 L792.0,303.0 L795.0,304.5 L798.0,305.7 L801.0,306.6 L804.0,307.4 L807.0,307.9 L810.0,308.2 L813.0,308.4 L816.0,308.8 L819.0,309.3 L822.0,310.0 L825.0,310.9 L828.0,312.2 L831.0,314.0 L834.0,316.1 L837.0,318.4 L840.0,320.8 L843.0,323.3 L846.0,325.8 L849.0,328.3 L852.0,330.6 L855.0,332.7 L858.0,334.6 L861.0,336.5 L864.0,338.3 L867.0,340.2 L870.0,342.0 L873.0,343.7 L876.0,345.3 L879.0,346.7 L882.0,347.9 L885.0,348.9 L888.0,349.6 L891.0,350.1 L894.0,350.4 L897.0,350.5 L900.0,350.4 L903.0,350.1 L906.0,349.8 L909.0,349.5 L912.0,349.3 L915.0,349.3 L918.0,349.3 L921.0,349.2 L924.0,349.1 L927.0,348.9 L930.0,348.6 L933.0,348.3 L936.0,347.8 L939.0,347.1 L942.0,346.0 L945.0,344.7 L948.0,343.2 L951.0,341.6 L954.0,339.5 L957.0,337.2 L960.0,334.5 L963.0,331.8 L966.0,328.8 L969.0,325.6 L972.0,322.2 L975.0,318.7 L978.0,315.1 L981.0,311.7 L984.0,308.5 L987.0,305.4 L990.0,302.4 L993.0,299.5 L996.0,297.0 L999.0,294.8 L1002.0,292.9 L1005.0,291.1 L1008.0,289.5 L1011.0,288.1 L1014.0,287.1 L1017.0,286.3 L1020.0,285.6 L1023.0,284.8 L1026.0,284.1 L1029.0,283.3 L1032.0,282.6 L1035.0,281.8 L1038.0,281.2 L1041.0,280.7 L1044.0,280.4 L1047.0,280.2 L1050.0,280.2 L1053.0,280.4 L1056.0,280.7 L1059.0,281.1 L1062.0,281.4 L1065.0,281.7 L1068.0,281.9 L1071.0,282.3 L1074.0,282.9 L1077.0,284.0 L1080.0,285.4 L1083.0,287.0 L1086.0,288.6 L1089.0,290.4 L1092.0,292.2 L1095.0,293.7 L1098.0,295.0 L1101.0,295.8 L1104.0,296.4 L1107.0,296.8 L1110.0,297.2 L1113.0,297.5 L1116.0,297.7 L1119.0,298.0 L1122.0,298.3 L1125.0,298.7 L1128.0,298.9 L1131.0,298.9 L1134.0,298.5 L1137.0,297.8 L1140.0,296.6 L1143.0,295.0 L1146.0,292.9 L1149.0,290.7 L1152.0,288.3 L1155.0,285.9 L1158.0,283.4 L1161.0,280.8 L1164.0,278.1 L1167.0,275.2 L1170.0,272.3 L1173.0,269.5 L1176.0,266.9 L1179.0,264.6 L1182.0,262.2 L1185.0,259.7 L1188.0,256.5 L1191.0,252.4 L1194.0,247.6 L1197.0,242.4 L1200.0,237.3 L1203.0,232.3 L1206.0,227.5 L1209.0,222.9 L1212.0,218.4 L1215.0,213.9 L1218.0,209.4 L1221.0,204.9 L1224.0,200.5 L1227.0,196.4 L1230.0,192.6 L1233.0,189.3 L1236.0,186.3 L1239.0,183.7 L1242.0,181.5 L1245.0,179.5 L1248.0,177.8 L1251.0,176.2 L1254.0,174.9 L1257.0,174.1 L1260.0,173.5 L1263.0,173.2 L1266.0,173.1 L1269.0,173.1 L1272.0,173.4 L1275.0,173.9 L1278.0,174.7 L1281.0,175.8 L1284.0,177.1 L1287.0,178.7 L1290.0,180.4 L1293.0,182.4 L1296.0,184.4 L1299.0,186.5 L1302.0,188.7 L1305.0,191.1 L1308.0,193.7 L1311.0,196.8 L1314.0,200.5 L1317.0,205.0 L1320.0,209.8 L1323.0,214.6 L1326.0,219.3 L1329.0,223.8 L1332.0,228.4 L1335.0,233.0 L1338.0,237.8 L1341.0,243.0 L1344.0,248.4 L1347.0,253.9 L1350.0,259.4 L1353.0,265.0 L1356.0,270.2 L1359.0,275.1 L1362.0,279.4 L1365.0,283.4 L1368.0,287.0 L1371.0,290.5 L1374.0,293.8 L1377.0,296.9 L1380.0,299.5 L1383.0,301.8 L1386.0,304.0 L1389.0,306.1 L1392.0,308.2 L1395.0,310.4 L1398.0,312.7 L1401.0,315.0 L1404.0,317.4 L1407.0,319.9 L1410.0,322.5 L1413.0,325.2 L1416.0,327.9 L1419.0,330.8 L1422.0,333.7 L1425.0,336.5 L1428.0,339.0 L1431.0,341.1 L1434.0,343.1 L1437.0,344.9 L1440.0,346.8 L1443.0,348.7 L1446.0,350.5 L1449.0,352.3 L1452.0,354.0 L1455.0,355.5 L1458.0,357.0 L1461.0,358.5 L1464.0,360.0 L1467.0,361.5 L1470.0,363.0 L1473.0,364.4 L1476.0,365.5 L1479.0,366.0 L1482.0,365.7 L1485.0,364.7 L1488.0,363.3 L1491.0,361.7 L1494.0,360.0 L1497.0,358.3 L1500.0,356.7 L1503.0,355.1 L1506.0,353.5 L1509.0,351.7 L1512.0,349.7 L1515.0,347.3 L1518.0,344.7 L1521.0,341.9 L1524.0,339.1 L1527.0,336.0 L1530.0,332.7 L1533.0,328.9 L1536.0,324.9 L1539.0,320.7 L1542.0,316.4 L1545.0,312.2 L1548.0,308.0 L1551.0,303.7 L1554.0,299.4 L1557.0,295.2 L1560.0,290.9 L1563.0,286.6 L1566.0,282.3 L1569.0,278.0 L1572.0,273.7 L1575.0,269.3 L1578.0,265.1 L1581.0,260.8 L1584.0,256.7 L1587.0,252.6 L1590.0,248.6 L1593.0,244.6 L1596.0,240.6 L1599.0,236.6" stroke="#78a0ff" stroke-width="1.1"/>
</g>
<g clip-path="url(#cp)" shape-rendering="crispEdges">
<rect x="3" y="216" width="1" height="34" fill="#f03246"/>
<rect x="1" y="223" width="5" height="21" fill="#f03246"/>
<rect x="9" y="185" width="1" height="61" fill="#4caf50"/>
<rect x="7" y="188" width="5" height="57" fill="#4caf50"/>
<rect x="15" y="160" width="1" height="68" fill="#f03246"/>
<rect x="13" y="188" width="5" height="27" fill="#f03246"/>
<rect x="21" y="203" width="1" height="95" fill="#f03246"/>
<rect x="19" y="214" width="5" height="53" fill="#f03246"/>
<rect x="27" y="250" width="1" height="24" fill="#f03246"/>
<rect x="25" y="266" width="5" height="4" fill="#f03246"/>
<rect x="33" y="236" width="1" height="33" fill="#4caf50"/>
<rect x="31" y="245" width="5" height="23" fill="#4caf50"/>
<rect x="39" y="219" width="1" height="37" fill="#4caf50"/>
<rect x="37" y="241" width="5" height="5" fill="#4caf50"/>
<rect x="45" y="236" width="1" height="33" fill="#f03246"/>
<rect x="43" y="240" width="5" height="20" fill="#f03246"/>
<rect x="51" y="249" width="1" height="42" fill="#f03246"/>
<rect x="49" y="260" width="5" height="30" fill="#f03246"/>
<rect x="57" y="285" width="1" height="61" fill="#f03246"/>
<rect x="55" y="289" width="5" height="42" fill="#f03246"/>
<rect x="63" y="330" width="1" height="37" fill="#f03246"/>
<rect x="61" y="331" width="5" height="32" fill="#f03246"/>
<rect x="69" y="336" width="1" height="57" fill="#f03246"/>
<rect x="67" y="358" width="5" height="34" fill="#f03246"/>
<rect x="75" y="346" width="1" height="52" fill="#4caf50"/>
<rect x="73" y="350" width="5" height="41" fill="#4caf50"/>
<rect x="81" y="321" width="1" height="38" fill="#4caf50"/>
<rect x="79" y="342" width="5" height="10" fill="#4caf50"/>
<rect x="87" y="334" width="1" height="13" fill="#4caf50"/>
<rect x="85" y="340" width="5" height="3" fill="#4caf50"/>
<rect x="93" y="300" width="1" height="46" fill="#4caf50"/>
<rect x="91" y="309" width="5" height="31" fill="#4caf50"/>
<rect x="99" y="301" width="1" height="29" fill="#f03246"/>
<rect x="97" y="309" width="5" height="19" fill="#f03246"/>
<rect x="105" y="322" width="1" height="54" fill="#f03246"/>
<rect x="103" y="328" width="5" height="42" fill="#f03246"/>
<rect x="111" y="340" width="1" height="37" fill="#4caf50"/>
<rect x="109" y="342" width="5" height="27" fill="#4caf50"/>
<rect x="117" y="308" width="1" height="41" fill="#4caf50"/>
<rect x="115" y="318" width="5" height="27" fill="#4caf50"/>
<rect x="123" y="276" width="1" height="49" fill="#4caf50"/>
<rect x="121" y="288" width="5" height="31" fill="#4caf50"/>
<rect x="129" y="288" width="1" height="51" fill="#f03246"/>
<rect x="127" y="288" width="5" height="42" fill="#f03246"/>
<rect x="135" y="308" width="1" height="33" fill="#f03246"/>
<rect x="133" y="329" width="5" height="3" fill="#f03246"/>
<rect x="141" y="301" width="1" height="48" fill="#4caf50"/>
<rect x="139" y="322" width="5" height="10" fill="#4caf50"/>
<rect x="147" y="289" width="1" height="34" fill="#4caf50"/>
<rect x="145" y="297" width="5" height="25" fill="#4caf50"/>
<rect x="153" y="278" width="1" height="36" fill="#f03246"/>
<rect x="151" y="297" width="5" height="13" fill="#f03246"/>
<rect x="159" y="251" width="1" height="74" fill="#f03246"/>
<rect x="157" y="309" width="5" height="9" fill="#f03246"/>
<rect x="165" y="290" width="1" height="49" fill="#f03246"/>
<rect x="163" y="318" width="5" height="12" fill="#f03246"/>
<rect x="171" y="262" width="1" height="69" fill="#4caf50"/>
<rect x="169" y="264" width="5" height="66" fill="#4caf50"/>
<rect x="177" y="217" width="1" height="46" fill="#4caf50"/>
<rect x="175" y="229" width="5" height="29" fill="#4caf50"/>
<rect x="183" y="214" width="1" height="23" fill="#4caf50"/>
<rect x="181" y="222" width="5" height="7" fill="#4caf50"/>
<rect x="189" y="219" width="1" height="80" fill="#f03246"/>
<rect x="187" y="222" width="5" height="19" fill="#f03246"/>
<rect x="195" y="168" width="1" height="79" fill="#4caf50"/>
<rect x="193" y="184" width="5" height="57" fill="#4caf50"/>
<rect x="201" y="182" width="1" height="32" fill="#f03246"/>
<rect x="199" y="184" width="5" height="20" fill="#f03246"/>
<rect x="207" y="190" width="1" height="16" fill="#4caf50"/>
<rect x="205" y="198" width="5" height="6" fill="#4caf50"/>
<rect x="213" y="95" width="1" height="115" fill="#4caf50"/>
<rect x="211" y="108" width="5" height="90" fill="#4caf50"/>
<rect x="219" y="71" width="1" height="57" fill="#f03246"/>
<rect x="217" y="108" width="5" height="4" fill="#f03246"/>
<rect x="225" y="105" width="1" height="44" fill="#f03246"/>
<rect x="223" y="111" width="5" height="5" fill="#f03246"/>
<rect x="231" y="66" width="1" height="75" fill="#4caf50"/>
<rect x="229" y="88" width="5" height="28" fill="#4caf50"/>
<rect x="237" y="87" width="1" height="39" fill="#f03246"/>
<rect x="235" y="88" width="5" height="15" fill="#f03246"/>
<rect x="243" y="84" width="1" height="22" fill="#4caf50"/>
<rect x="241" y="98" width="5" height="5" fill="#4caf50"/>
<rect x="249" y="54" width="1" height="73" fill="#f03246"/>
<rect x="247" y="56" width="5" height="23" fill="#f03246"/>
<rect x="255" y="67" width="1" height="62" fill="#f03246"/>
<rect x="253" y="78" width="5" height="43" fill="#f03246"/>
<rect x="261" y="118" width="1" height="29" fill="#f03246"/>
<rect x="259" y="121" width="5" height="20" fill="#f03246"/>
<rect x="267" y="118" width="1" height="85" fill="#f03246"/>
<rect x="265" y="141" width="5" height="52" fill="#f03246"/>
<rect x="273" y="154" width="1" height="40" fill="#4caf50"/>
<rect x="271" y="183" width="5" height="10" fill="#4caf50"/>
<rect x="279" y="181" width="1" height="23" fill="#f03246"/>
<rect x="277" y="182" width="5" height="20" fill="#f03246"/>
<rect x="285" y="158" width="1" height="44" fill="#4caf50"/>
<rect x="283" y="181" width="5" height="20" fill="#4caf50"/>
<rect x="291" y="166" width="1" height="58" fill="#f03246"/>
<rect x="289" y="181" width="5" height="2" fill="#f03246"/>
<rect x="297" y="182" width="1" height="38" fill="#f03246"/>
<rect x="295" y="183" width="5" height="16" fill="#f03246"/>
<rect x="303" y="166" width="1" height="36" fill="#4caf50"/>
<rect x="301" y="188" width="5" height="11" fill="#4caf50"/>
<rect x="309" y="183" width="1" height="57" fill="#f03246"/>
<rect x="307" y="186" width="5" height="2" fill="#f03246"/>
<rect x="315" y="183" width="1" height="21" fill="#f03246"/>
<rect x="313" y="188" width="5" height="6" fill="#f03246"/>
<rect x="321" y="175" width="1" height="39" fill="#f03246"/>
<rect x="319" y="190" width="5" height="23" fill="#f03246"/>
<rect x="327" y="167" width="1" height="64" fill="#4caf50"/>
<rect x="325" y="196" width="5" height="17" fill="#4caf50"/>
<rect x="333" y="190" width="1" height="29" fill="#f03246"/>
<rect x="331" y="196" width="5" height="19" fill="#f03246"/>
<rect x="339" y="174" width="1" height="46" fill="#4caf50"/>
<rect x="337" y="183" width="5" height="32" fill="#4caf50"/>
<rect x="345" y="178" width="1" height="44" fill="#f03246"/>
<rect x="343" y="184" width="5" height="16" fill="#f03246"/>
<rect x="351" y="176" width="1" height="71" fill="#f03246"/>
<rect x="349" y="199" width="5" height="36" fill="#f03246"/>
<rect x="357" y="193" width="1" height="42" fill="#4caf50"/>
<rect x="355" y="221" width="5" height="11" fill="#4caf50"/>
<rect x="363" y="213" width="1" height="39" fill="#f03246"/>
<rect x="361" y="221" width="5" height="22" fill="#f03246"/>
<rect x="369" y="225" width="1" height="55" fill="#4caf50"/>
<rect x="367" y="231" width="5" height="13" fill="#4caf50"/>
<rect x="375" y="212" width="1" height="38" fill="#f03246"/>
<rect x="373" y="231" width="5" height="2" fill="#f03246"/>
<rect x="381" y="220" width="1" height="29" fill="#f03246"/>
<rect x="379" y="232" width="5" height="3" fill="#f03246"/>
<rect x="387" y="228" width="1" height="11" fill="#4caf50"/>
<rect x="385" y="230" width="5" height="6" fill="#4caf50"/>
<rect x="393" y="230" width="1" height="32" fill="#f03246"/>
<rect x="391" y="231" width="5" height="31" fill="#f03246"/>
<rect x="399" y="252" width="1" height="39" fill="#f03246"/>
<rect x="397" y="261" width="5" height="26" fill="#f03246"/>
<rect x="405" y="255" width="1" height="40" fill="#4caf50"/>
<rect x="403" y="264" width="5" height="23" fill="#4caf50"/>
<rect x="411" y="222" width="1" height="70" fill="#4caf50"/>
<rect x="409" y="231" width="5" height="33" fill="#4caf50"/>
<rect x="417" y="221" width="1" height="20" fill="#f03246"/>
<rect x="415" y="231" width="5" height="7" fill="#f03246"/>
<rect x="423" y="230" width="1" height="13" fill="#4caf50"/>
<rect x="421" y="236" width="5" height="2" fill="#4caf50"/>
<rect x="429" y="170" width="1" height="101" fill="#f03246"/>
<rect x="427" y="223" width="5" height="41" fill="#f03246"/>
<rect x="435" y="240" width="1" height="42" fill="#4caf50"/>
<rect x="433" y="260" width="5" height="4" fill="#4caf50"/>
<rect x="441" y="234" width="1" height="37" fill="#4caf50"/>
<rect x="439" y="239" width="5" height="22" fill="#4caf50"/>
<rect x="447" y="192" width="1" height="70" fill="#4caf50"/>
<rect x="445" y="209" width="5" height="31" fill="#4caf50"/>
<rect x="453" y="181" width="1" height="52" fill="#4caf50"/>
<rect x="451" y="204" width="5" height="6" fill="#4caf50"/>
<rect x="459" y="192" width="1" height="46" fill="#f03246"/>
<rect x="457" y="205" width="5" height="32" fill="#f03246"/>
<rect x="465" y="233" width="1" height="77" fill="#f03246"/>
<rect x="463" y="237" width="5" height="43" fill="#f03246"/>
<rect x="471" y="258" width="1" height="66" fill="#f03246"/>
<rect x="469" y="279" width="5" height="35" fill="#f03246"/>
<rect x="477" y="311" width="1" height="36" fill="#f03246"/>
<rect x="475" y="313" width="5" height="30" fill="#f03246"/>
<rect x="483" y="320" width="1" height="71" fill="#f03246"/>
<rect x="481" y="342" width="5" height="35" fill="#f03246"/>
<rect x="489" y="336" width="1" height="49" fill="#4caf50"/>
<rect x="487" y="343" width="5" height="36" fill="#4caf50"/>
<rect x="495" y="329" width="1" height="18" fill="#4caf50"/>
<rect x="493" y="333" width="5" height="10" fill="#4caf50"/>
<rect x="501" y="307" width="1" height="30" fill="#4caf50"/>
<rect x="499" y="307" width="5" height="26" fill="#4caf50"/>
<rect x="507" y="306" width="1" height="22" fill="#f03246"/>
<rect x="505" y="308" width="5" height="7" fill="#f03246"/>
<rect x="513" y="302" width="1" height="37" fill="#f03246"/>
<rect x="511" y="314" width="5" height="13" fill="#f03246"/>
<rect x="519" y="318" width="1" height="39" fill="#f03246"/>
<rect x="517" y="327" width="5" height="25" fill="#f03246"/>
<rect x="525" y="306" width="1" height="49" fill="#4caf50"/>
<rect x="523" y="322" width="5" height="29" fill="#4caf50"/>
<rect x="531" y="304" width="1" height="22" fill="#4caf50"/>
<rect x="529" y="313" width="5" height="10" fill="#4caf50"/>
<rect x="537" y="295" width="1" height="24" fill="#f03246"/>
<rect x="535" y="311" width="5" height="7" fill="#f03246"/>
<rect x="543" y="289" width="1" height="31" fill="#4caf50"/>
<rect x="541" y="308" width="5" height="10" fill="#4caf50"/>
<rect x="549" y="274" width="1" height="37" fill="#4caf50"/>
<rect x="547" y="295" width="5" height="14" fill="#4caf50"/>
<rect x="555" y="287" width="1" height="74" fill="#f03246"/>
<rect x="553" y="295" width="5" height="44" fill="#f03246"/>
<rect x="561" y="303" width="1" height="54" fill="#4caf50"/>
<rect x="559" y="312" width="5" height="27" fill="#4caf50"/>
<rect x="567" y="307" width="1" height="17" fill="#f03246"/>
<rect x="565" y="312" width="5" height="11" fill="#f03246"/>
<rect x="573" y="321" width="1" height="32" fill="#f03246"/>
<rect x="571" y="323" width="5" height="24" fill="#f03246"/>
<rect x="579" y="338" width="1" height="67" fill="#f03246"/>
<rect x="577" y="347" width="5" height="42" fill="#f03246"/>
<rect x="585" y="382" width="1" height="39" fill="#f03246"/>
<rect x="583" y="387" width="5" height="33" fill="#f03246"/>
<rect x="591" y="401" width="1" height="77" fill="#f03246"/>
<rect x="589" y="419" width="5" height="19" fill="#f03246"/>
<rect x="597" y="419" width="1" height="41" fill="#4caf50"/>
<rect x="595" y="431" width="5" height="7" fill="#4caf50"/>
<rect x="603" y="428" width="1" height="22" fill="#f03246"/>
<rect x="601" y="431" width="5" height="9" fill="#f03246"/>
<rect x="609" y="421" width="1" height="76" fill="#4caf50"/>
<rect x="607" y="438" width="5" height="4" fill="#4caf50"/>
<rect x="615" y="400" width="1" height="39" fill="#4caf50"/>
<rect x="613" y="405" width="5" height="34" fill="#4caf50"/>
<rect x="621" y="389" width="1" height="42" fill="#f03246"/>
<rect x="619" y="405" width="5" height="4" fill="#f03246"/>
<rect x="627" y="405" width="1" height="32" fill="#f03246"/>
<rect x="625" y="408" width="5" height="8" fill="#f03246"/>
<rect x="633" y="385" width="1" height="42" fill="#4caf50"/>
<rect x="631" y="395" width="5" height="21" fill="#4caf50"/>
<rect x="639" y="361" width="1" height="36" fill="#4caf50"/>
<rect x="637" y="377" width="5" height="19" fill="#4caf50"/>
<rect x="645" y="337" width="1" height="40" fill="#4caf50"/>
<rect x="643" y="344" width="5" height="33" fill="#4caf50"/>
<rect x="651" y="313" width="1" height="37" fill="#4caf50"/>
<rect x="649" y="320" width="5" height="25" fill="#4caf50"/>
<rect x="657" y="278" width="1" height="51" fill="#4caf50"/>
<rect x="655" y="284" width="5" height="37" fill="#4caf50"/>
<rect x="663" y="257" width="1" height="30" fill="#4caf50"/>
<rect x="661" y="271" width="5" height="14" fill="#4caf50"/>
<rect x="669" y="265" width="1" height="38" fill="#f03246"/>
<rect x="667" y="271" width="5" height="27" fill="#f03246"/>
<rect x="675" y="294" width="1" height="9" fill="#f03246"/>
<rect x="673" y="297" width="5" height="5" fill="#f03246"/>
<rect x="681" y="285" width="1" height="32" fill="#f03246"/>
<rect x="679" y="298" width="5" height="16" fill="#f03246"/>
<rect x="687" y="287" width="1" height="34" fill="#4caf50"/>
<rect x="685" y="299" width="5" height="15" fill="#4caf50"/>
<rect x="693" y="291" width="1" height="32" fill="#4caf50"/>
<rect x="691" y="292" width="5" height="7" fill="#4caf50"/>
<rect x="699" y="273" width="1" height="34" fill="#f03246"/>
<rect x="697" y="292" width="5" height="11" fill="#f03246"/>
<rect x="705" y="273" width="1" height="36" fill="#4caf50"/>
<rect x="703" y="276" width="5" height="27" fill="#4caf50"/>
<rect x="711" y="253" width="1" height="25" fill="#4caf50"/>
<rect x="709" y="259" width="5" height="18" fill="#4caf50"/>
<rect x="717" y="241" width="1" height="51" fill="#f03246"/>
<rect x="715" y="258" width="5" height="25" fill="#f03246"/>
<rect x="723" y="252" width="1" height="33" fill="#4caf50"/>
<rect x="721" y="255" width="5" height="29" fill="#4caf50"/>
<rect x="729" y="245" width="1" height="43" fill="#f03246"/>
<rect x="727" y="254" width="5" height="31" fill="#f03246"/>
<rect x="735" y="262" width="1" height="96" fill="#f03246"/>
<rect x="733" y="284" width="5" height="30" fill="#f03246"/>
<rect x="741" y="307" width="1" height="26" fill="#f03246"/>
<rect x="739" y="314" width="5" height="5" fill="#f03246"/>
<rect x="747" y="317" width="1" height="11" fill="#f03246"/>
<rect x="745" y="319" width="5" height="8" fill="#f03246"/>
<rect x="753" y="309" width="1" height="23" fill="#4caf50"/>
<rect x="751" y="317" width="5" height="11" fill="#4caf50"/>
<rect x="759" y="291" width="1" height="35" fill="#4caf50"/>
<rect x="757" y="297" width="5" height="21" fill="#4caf50"/>
<rect x="765" y="285" width="1" height="26" fill="#f03246"/>
<rect x="763" y="297" width="5" height="12" fill="#f03246"/>
<rect x="771" y="300" width="1" height="15" fill="#f03246"/>
<rect x="769" y="308" width="5" height="2" fill="#f03246"/>
<rect x="777" y="300" width="1" height="16" fill="#4caf50"/>
<rect x="775" y="302" width="5" height="8" fill="#4caf50"/>
<rect x="783" y="289" width="1" height="79" fill="#f03246"/>
<rect x="781" y="308" width="5" height="39" fill="#f03246"/>
<rect x="789" y="343" width="1" height="28" fill="#f03246"/>
<rect x="787" y="346" width="5" height="8" fill="#f03246"/>
<rect x="795" y="349" width="1" height="32" fill="#f03246"/>
<rect x="793" y="353" width="5" height="11" fill="#f03246"/>
<rect x="801" y="345" width="1" height="45" fill="#4caf50"/>
<rect x="799" y="347" width="5" height="17" fill="#4caf50"/>
<rect x="807" y="309" width="1" height="45" fill="#4caf50"/>
<rect x="805" y="313" width="5" height="35" fill="#4caf50"/>
<rect x="813" y="296" width="1" height="25" fill="#4caf50"/>
<rect x="811" y="304" width="5" height="10" fill="#4caf50"/>
<rect x="819" y="283" width="1" height="36" fill="#f03246"/>
<rect x="817" y="300" width="5" height="8" fill="#f03246"/>
<rect x="825" y="300" width="1" height="24" fill="#f03246"/>
<rect x="823" y="307" width="5" height="3" fill="#f03246"/>
<rect x="831" y="298" width="1" height="39" fill="#f03246"/>
<rect x="829" y="309" width="5" height="27" fill="#f03246"/>
<rect x="837" y="318" width="1" height="32" fill="#f03246"/>
<rect x="835" y="334" width="5" height="15" fill="#f03246"/>
<rect x="843" y="348" width="1" height="62" fill="#f03246"/>
<rect x="841" y="349" width="5" height="19" fill="#f03246"/>
<rect x="849" y="364" width="1" height="19" fill="#f03246"/>
<rect x="847" y="368" width="5" height="13" fill="#f03246"/>
<rect x="855" y="365" width="1" height="23" fill="#4caf50"/>
<rect x="853" y="378" width="5" height="1" fill="#4caf50"/>
<rect x="861" y="376" width="1" height="39" fill="#f03246"/>
<rect x="859" y="378" width="5" height="28" fill="#f03246"/>
<rect x="867" y="391" width="1" height="29" fill="#f03246"/>
<rect x="865" y="405" width="5" height="1" fill="#f03246"/>
<rect x="873" y="370" width="1" height="48" fill="#4caf50"/>
<rect x="871" y="381" width="5" height="25" fill="#4caf50"/>
<rect x="879" y="350" width="1" height="33" fill="#4caf50"/>
<rect x="877" y="362" width="5" height="21" fill="#4caf50"/>
<rect x="885" y="347" width="1" height="19" fill="#4caf50"/>
<rect x="883" y="355" width="5" height="8" fill="#4caf50"/>
<rect x="891" y="325" width="1" height="30" fill="#4caf50"/>
<rect x="889" y="334" width="5" height="21" fill="#4caf50"/>
<rect x="897" y="328" width="1" height="22" fill="#f03246"/>
<rect x="895" y="334" width="5" height="3" fill="#f03246"/>
<rect x="903" y="317" width="1" height="23" fill="#4caf50"/>
<rect x="901" y="325" width="5" height="12" fill="#4caf50"/>
<rect x="909" y="317" width="1" height="40" fill="#f03246"/>
<rect x="907" y="325" width="5" height="30" fill="#f03246"/>
<rect x="915" y="335" width="1" height="26" fill="#4caf50"/>
<rect x="913" y="345" width="5" height="10" fill="#4caf50"/>
<rect x="921" y="325" width="1" height="22" fill="#4caf50"/>
<rect x="919" y="332" width="5" height="14" fill="#4caf50"/>
<rect x="927" y="304" width="1" height="31" fill="#4caf50"/>
<rect x="925" y="318" width="5" height="15" fill="#4caf50"/>
<rect x="933" y="292" width="1" height="32" fill="#4caf50"/>
<rect x="931" y="308" width="5" height="11" fill="#4caf50"/>
<rect x="939" y="287" width="1" height="29" fill="#4caf50"/>
<rect x="937" y="297" width="5" height="13" fill="#4caf50"/>
<rect x="945" y="255" width="1" height="43" fill="#4caf50"/>
<rect x="943" y="270" width="5" height="27" fill="#4caf50"/>
<rect x="951" y="234" width="1" height="43" fill="#4caf50"/>
<rect x="949" y="268" width="5" height="3" fill="#4caf50"/>
<rect x="957" y="253" width="1" height="15" fill="#4caf50"/>
<rect x="955" y="264" width="5" height="4" fill="#4caf50"/>
<rect x="963" y="223" width="1" height="40" fill="#4caf50"/>
<rect x="961" y="256" width="5" height="7" fill="#4caf50"/>
<rect x="969" y="249" width="1" height="18" fill="#f03246"/>
<rect x="967" y="256" width="5" height="3" fill="#f03246"/>
<rect x="975" y="221" width="1" height="40" fill="#4caf50"/>
<rect x="973" y="231" width="5" height="28" fill="#4caf50"/>
<rect x="981" y="221" width="1" height="60" fill="#f03246"/>
<rect x="979" y="231" width="5" height="32" fill="#f03246"/>
<rect x="987" y="261" width="1" height="33" fill="#f03246"/>
<rect x="985" y="263" width="5" height="10" fill="#f03246"/>
<rect x="993" y="272" width="1" height="22" fill="#f03246"/>
<rect x="991" y="272" width="5" height="19" fill="#f03246"/>
<rect x="999" y="273" width="1" height="20" fill="#4caf50"/>
<rect x="997" y="282" width="5" height="9" fill="#4caf50"/>
<rect x="1005" y="242" width="1" height="42" fill="#4caf50"/>
<rect x="1003" y="248" width="5" height="35" fill="#4caf50"/>
<rect x="1011" y="241" width="1" height="20" fill="#4caf50"/>
<rect x="1009" y="246" width="5" height="2" fill="#4caf50"/>
<rect x="1017" y="240" width="1" height="68" fill="#f03246"/>
<rect x="1015" y="246" width="5" height="37" fill="#f03246"/>
<rect x="1023" y="270" width="1" height="69" fill="#f03246"/>
<rect x="1021" y="282" width="5" height="40" fill="#f03246"/>
<rect x="1029" y="313" width="1" height="20" fill="#f03246"/>
<rect x="1027" y="321" width="5" height="12" fill="#f03246"/>
<rect x="1035" y="307" width="1" height="25" fill="#4caf50"/>
<rect x="1033" y="316" width="5" height="16" fill="#4caf50"/>
<rect x="1041" y="296" width="1" height="31" fill="#4caf50"/>
<rect x="1039" y="301" width="5" height="15" fill="#4caf50"/>
<rect x="1047" y="289" width="1" height="16" fill="#4caf50"/>
<rect x="1045" y="296" width="5" height="5" fill="#4caf50"/>
<rect x="1053" y="294" width="1" height="41" fill="#f03246"/>
<rect x="1051" y="296" width="5" height="29" fill="#f03246"/>
<rect x="1059" y="215" width="1" height="125" fill="#4caf50"/>
<rect x="1057" y="264" width="5" height="61" fill="#4caf50"/>
<rect x="1065" y="258" width="1" height="27" fill="#f03246"/>
<rect x="1063" y="264" width="5" height="20" fill="#f03246"/>
<rect x="1071" y="270" width="1" height="32" fill="#f03246"/>
<rect x="1069" y="280" width="5" height="7" fill="#f03246"/>
<rect x="1077" y="286" width="1" height="18" fill="#f03246"/>
<rect x="1075" y="287" width="5" height="10" fill="#f03246"/>
<rect x="1083" y="296" width="1" height="33" fill="#f03246"/>
<rect x="1081" y="297" width="5" height="31" fill="#f03246"/>
<rect x="1089" y="315" width="1" height="46" fill="#f03246"/>
<rect x="1087" y="327" width="5" height="15" fill="#f03246"/>
<rect x="1095" y="294" width="1" height="49" fill="#4caf50"/>
<rect x="1093" y="301" width="5" height="41" fill="#4caf50"/>
<rect x="1101" y="294" width="1" height="12" fill="#4caf50"/>
<rect x="1099" y="299" width="5" height="3" fill="#4caf50"/>
<rect x="1107" y="287" width="1" height="19" fill="#f03246"/>
<rect x="1105" y="299" width="5" height="3" fill="#f03246"/>
<rect x="1113" y="287" width="1" height="24" fill="#f03246"/>
<rect x="1111" y="301" width="5" height="9" fill="#f03246"/>
<rect x="1119" y="264" width="1" height="50" fill="#4caf50"/>
<rect x="1117" y="269" width="5" height="42" fill="#4caf50"/>
<rect x="1125" y="250" width="1" height="28" fill="#4caf50"/>
<rect x="1123" y="263" width="5" height="7" fill="#4caf50"/>
<rect x="1131" y="255" width="1" height="19" fill="#f03246"/>
<rect x="1129" y="263" width="5" height="8" fill="#f03246"/>
<rect x="1137" y="267" width="1" height="12" fill="#f03246"/>
<rect x="1135" y="270" width="5" height="6" fill="#f03246"/>
<rect x="1143" y="256" width="1" height="43" fill="#4caf50"/>
<rect x="1141" y="261" width="5" height="15" fill="#4caf50"/>
<rect x="1149" y="233" width="1" height="41" fill="#4caf50"/>
<rect x="1147" y="239" width="5" height="23" fill="#4caf50"/>
<rect x="1155" y="230" width="1" height="17" fill="#f03246"/>
<rect x="1153" y="239" width="5" height="3" fill="#f03246"/>
<rect x="1161" y="178" width="1" height="69" fill="#4caf50"/>
<rect x="1159" y="192" width="5" height="49" fill="#4caf50"/>
<rect x="1167" y="164" width="1" height="33" fill="#4caf50"/>
<rect x="1165" y="181" width="5" height="12" fill="#4caf50"/>
<rect x="1173" y="167" width="1" height="15" fill="#4caf50"/>
<rect x="1171" y="174" width="5" height="8" fill="#4caf50"/>
<rect x="1179" y="161" width="1" height="38" fill="#f03246"/>
<rect x="1177" y="174" width="5" height="24" fill="#f03246"/>
<rect x="1185" y="181" width="1" height="19" fill="#f03246"/>
<rect x="1183" y="197" width="5" height="1" fill="#f03246"/>
<rect x="1191" y="187" width="1" height="16" fill="#4caf50"/>
<rect x="1189" y="196" width="5" height="3" fill="#4caf50"/>
<rect x="1197" y="123" width="1" height="75" fill="#4caf50"/>
<rect x="1195" y="140" width="5" height="58" fill="#4caf50"/>
<rect x="1203" y="95" width="1" height="63" fill="#4caf50"/>
<rect x="1201" y="104" width="5" height="38" fill="#4caf50"/>
<rect x="1209" y="96" width="1" height="12" fill="#4caf50"/>
<rect x="1207" y="101" width="5" height="4" fill="#4caf50"/>
<rect x="1215" y="82" width="1" height="40" fill="#f03246"/>
<rect x="1213" y="99" width="5" height="23" fill="#f03246"/>
<rect x="1221" y="106" width="1" height="26" fill="#f03246"/>
<rect x="1219" y="122" width="5" height="2" fill="#f03246"/>
<rect x="1227" y="93" width="1" height="33" fill="#4caf50"/>
<rect x="1225" y="100" width="5" height="24" fill="#4caf50"/>
<rect x="1233" y="99" width="1" height="57" fill="#f03246"/>
<rect x="1231" y="100" width="5" height="39" fill="#f03246"/>
<rect x="1239" y="124" width="1" height="83" fill="#f03246"/>
<rect x="1237" y="138" width="5" height="45" fill="#f03246"/>
<rect x="1245" y="175" width="1" height="23" fill="#f03246"/>
<rect x="1243" y="182" width="5" height="15" fill="#f03246"/>
<rect x="1251" y="182" width="1" height="19" fill="#f03246"/>
<rect x="1249" y="192" width="5" height="3" fill="#f03246"/>
<rect x="1257" y="190" width="1" height="32" fill="#f03246"/>
<rect x="1255" y="194" width="5" height="19" fill="#f03246"/>
<rect x="1263" y="211" width="1" height="38" fill="#f03246"/>
<rect x="1261" y="212" width="5" height="34" fill="#f03246"/>
<rect x="1269" y="228" width="1" height="44" fill="#4caf50"/>
<rect x="1267" y="238" width="5" height="8" fill="#4caf50"/>
<rect x="1275" y="215" width="1" height="26" fill="#4caf50"/>
<rect x="1273" y="232" width="5" height="7" fill="#4caf50"/>
<rect x="1281" y="224" width="1" height="14" fill="#f03246"/>
<rect x="1279" y="233" width="5" height="4" fill="#f03246"/>
<rect x="1287" y="224" width="1" height="17" fill="#4caf50"/>
<rect x="1285" y="229" width="5" height="6" fill="#4caf50"/>
<rect x="1293" y="229" width="1" height="34" fill="#f03246"/>
<rect x="1291" y="231" width="5" height="25" fill="#f03246"/>
<rect x="1299" y="253" width="1" height="37" fill="#f03246"/>
<rect x="1297" y="255" width="5" height="29" fill="#f03246"/>
<rect x="1305" y="278" width="1" height="25" fill="#f03246"/>
<rect x="1303" y="283" width="5" height="6" fill="#f03246"/>
<rect x="1311" y="285" width="1" height="43" fill="#f03246"/>
<rect x="1309" y="288" width="5" height="17" fill="#f03246"/>
<rect x="1317" y="295" width="1" height="10" fill="#4caf50"/>
<rect x="1315" y="304" width="5" height="1" fill="#4caf50"/>
<rect x="1323" y="300" width="1" height="57" fill="#4caf50"/>
<rect x="1321" y="313" width="5" height="33" fill="#4caf50"/>
<rect x="1329" y="287" width="1" height="28" fill="#4caf50"/>
<rect x="1327" y="289" width="5" height="24" fill="#4caf50"/>
<rect x="1335" y="284" width="1" height="28" fill="#f03246"/>
<rect x="1333" y="289" width="5" height="13" fill="#f03246"/>
<rect x="1341" y="298" width="1" height="81" fill="#f03246"/>
<rect x="1339" y="301" width="5" height="76" fill="#f03246"/>
<rect x="1347" y="345" width="1" height="33" fill="#4caf50"/>
<rect x="1345" y="359" width="5" height="18" fill="#4caf50"/>
<rect x="1353" y="341" width="1" height="19" fill="#4caf50"/>
<rect x="1351" y="351" width="5" height="9" fill="#4caf50"/>
<rect x="1359" y="337" width="1" height="27" fill="#4caf50"/>
<rect x="1357" y="341" width="5" height="12" fill="#4caf50"/>
<rect x="1365" y="338" width="1" height="25" fill="#4caf50"/>
<rect x="1363" y="339" width="5" height="2" fill="#4caf50"/>
<rect x="1371" y="316" width="1" height="42" fill="#4caf50"/>
<rect x="1369" y="329" width="5" height="10" fill="#4caf50"/>
<rect x="1377" y="325" width="1" height="30" fill="#f03246"/>
<rect x="1375" y="329" width="5" height="18" fill="#f03246"/>
<rect x="1383" y="309" width="1" height="48" fill="#4caf50"/>
<rect x="1381" y="321" width="5" height="24" fill="#4caf50"/>
<rect x="1389" y="316" width="1" height="18" fill="#f03246"/>
<rect x="1387" y="321" width="5" height="5" fill="#f03246"/>
<rect x="1395" y="309" width="1" height="26" fill="#f03246"/>
<rect x="1393" y="324" width="5" height="9" fill="#f03246"/>
<rect x="1401" y="312" width="1" height="21" fill="#4caf50"/>
<rect x="1399" y="328" width="5" height="5" fill="#4caf50"/>
<rect x="1407" y="309" width="1" height="24" fill="#4caf50"/>
<rect x="1405" y="315" width="5" height="13" fill="#4caf50"/>
<rect x="1413" y="311" width="1" height="75" fill="#f03246"/>
<rect x="1411" y="315" width="5" height="61" fill="#f03246"/>
<rect x="1419" y="364" width="1" height="43" fill="#f03246"/>
<rect x="1417" y="376" width="5" height="5" fill="#f03246"/>
<rect x="1425" y="371" width="1" height="80" fill="#f03246"/>
<rect x="1423" y="381" width="5" height="55" fill="#f03246"/>
<rect x="1431" y="395" width="1" height="44" fill="#4caf50"/>
<rect x="1429" y="395" width="5" height="40" fill="#4caf50"/>
<rect x="1437" y="378" width="1" height="25" fill="#4caf50"/>
<rect x="1435" y="383" width="5" height="13" fill="#4caf50"/>
<rect x="1443" y="350" width="1" height="37" fill="#4caf50"/>
<rect x="1441" y="368" width="5" height="16" fill="#4caf50"/>
<rect x="1449" y="358" width="1" height="38" fill="#f03246"/>
<rect x="1447" y="368" width="5" height="12" fill="#f03246"/>
<rect x="1455" y="375" width="1" height="29" fill="#f03246"/>
<rect x="1453" y="379" width="5" height="15" fill="#f03246"/>
<rect x="1461" y="388" width="1" height="17" fill="#f03246"/>
<rect x="1459" y="393" width="5" height="11" fill="#f03246"/>
<rect x="1467" y="391" width="1" height="30" fill="#f03246"/>
<rect x="1465" y="404" width="5" height="14" fill="#f03246"/>
<rect x="1473" y="381" width="1" height="37" fill="#4caf50"/>
<rect x="1471" y="389" width="5" height="29" fill="#4caf50"/>
<rect x="1479" y="387" width="1" height="27" fill="#f03246"/>
<rect x="1477" y="389" width="5" height="6" fill="#f03246"/>
<rect x="1485" y="264" width="1" height="133" fill="#4caf50"/>
<rect x="1483" y="290" width="5" height="105" fill="#4caf50"/>
<rect x="1491" y="263" width="1" height="32" fill="#4caf50"/>
<rect x="1489" y="278" width="5" height="13" fill="#4caf50"/>
<rect x="1497" y="245" width="1" height="38" fill="#4caf50"/>
<rect x="1495" y="247" width="5" height="33" fill="#4caf50"/>
<rect x="1503" y="233" width="1" height="53" fill="#f03246"/>
<rect x="1501" y="248" width="5" height="23" fill="#f03246"/>
<rect x="1509" y="248" width="1" height="26" fill="#4caf50"/>
<rect x="1507" y="258" width="5" height="13" fill="#4caf50"/>
<rect x="1515" y="247" width="1" height="24" fill="#4caf50"/>
<rect x="1513" y="257" width="5" height="1" fill="#4caf50"/>
<rect x="1521" y="198" width="1" height="71" fill="#4caf50"/>
<rect x="1519" y="203" width="5" height="55" fill="#4caf50"/>
<rect x="1527" y="200" width="1" height="31" fill="#f03246"/>
<rect x="1525" y="203" width="5" height="20" fill="#f03246"/>
<rect x="1533" y="216" width="1" height="11" fill="#f03246"/>
<rect x="1531" y="223" width="5" height="4" fill="#f03246"/>
<rect x="1539" y="205" width="1" height="22" fill="#4caf50"/>
<rect x="1537" y="213" width="5" height="14" fill="#4caf50"/>
<rect x="1545" y="207" width="1" height="30" fill="#f03246"/>
<rect x="1543" y="212" width="5" height="12" fill="#f03246"/>
<rect x="1551" y="220" width="1" height="36" fill="#f03246"/>
<rect x="1549" y="223" width="5" height="32" fill="#f03246"/>
<rect x="1557" y="210" width="1" height="66" fill="#4caf50"/>
<rect x="1555" y="225" width="5" height="30" fill="#4caf50"/>
<rect x="1563" y="187" width="1" height="44" fill="#4caf50"/>
<rect x="1561" y="210" width="5" height="15" fill="#4caf50"/>
<rect x="1569" y="207" width="1" height="7" fill="#4caf50"/>
<rect x="1567" y="210" width="5" height="1" fill="#4caf50"/>
<rect x="1575" y="198" width="1" height="27" fill="#f03246"/>
<rect x="1573" y="209" width="5" height="9" fill="#f03246"/>
<rect x="1581" y="213" width="1" height="17" fill="#f03246"/>
<rect x="1579" y="218" width="5" height="5" fill="#f03246"/>
<rect x="1587" y="213" width="1" height="44" fill="#f03246"/>
<rect x="1585" y="222" width="5" height="34" fill="#f03246"/>
<rect x="1593" y="224" width="1" height="33" fill="#4caf50"/>
<rect x="1591" y="228" width="5" height="28" fill="#4caf50"/>
<rect x="1599" y="215" width="1" height="18" fill="#4caf50"/>
<rect x="1597" y="217" width="5" height="12" fill="#4caf50"/>
</g>
<line x1="0" y1="209.5" x2="1740" y2="209.5" stroke="#444" stroke-width="1" stroke-dasharray="1,2" stroke-dashoffset="2"/>
<line x1="0" y1="217.500" x2="1741" y2="217.500" stroke="#4caf50" stroke-width="1" stroke-dasharray="1,2" stroke-dashoffset="2"/>
<g clip-path="url(#cr)" fill="none" stroke-linejoin="round">
<line x1="0" y1="572.5" x2="1741" y2="572.5" stroke="#787b86" stroke-width="1" stroke-dasharray="5,6" stroke-dashoffset="2"/>
<line x1="0" y1="620.5" x2="1741" y2="620.5" stroke="#787b86" stroke-opacity="0.6" stroke-width="1" stroke-dasharray="5,6" stroke-dashoffset="2"/>
<line x1="0" y1="668.5" x2="1741" y2="668.5" stroke="#787b86" stroke-width="1" stroke-dasharray="5,6" stroke-dashoffset="2"/>
<clipPath id="ob"><rect x="0" y="542" width="1741" height="30.5"/></clipPath>
<path d="M-3.0,601.7 L3.0,605.9 L9.0,590.5 L15.0,600.9 L21.0,618.8 L27.0,619.6 L33.0,612.1 L39.0,610.1 L45.0,618.3 L51.0,629.5 L57.0,641.4 L63.0,649.4 L69.0,656.1 L75.0,640.2 L81.0,636.9 L87.0,636.0 L93.0,623.8 L99.0,629.5 L105.0,642.4 L111.0,632.7 L117.0,622.5 L123.0,612.6 L129.0,625.8 L135.0,627.0 L141.0,623.3 L147.0,614.6 L153.0,619.1 L159.0,622.0 L165.0,627.0 L171.0,602.9 L177.0,592.2 L183.0,590.5 L189.0,598.9 L195.0,584.0 L201.0,592.2 L207.0,590.5 L213.0,570.1 L219.0,571.6 L225.0,573.6 L231.0,568.1 L237.0,575.1 L243.0,574.3 L249.0,569.4 L255.0,590.5 L261.0,600.2 L267.0,619.6 L273.0,616.1 L279.0,623.0 L285.0,615.3 L291.0,616.3 L297.0,622.0 L303.0,617.8 L309.0,617.6 L315.0,620.3 L321.0,629.0 L327.0,621.3 L333.0,629.0 L339.0,614.6 L345.0,621.3 L351.0,636.2 L357.0,630.0 L363.0,638.4 L369.0,632.5 L375.0,632.7 L381.0,634.0 L387.0,631.5 L393.0,644.4 L399.0,654.3 L405.0,639.9 L411.0,623.5 L417.0,626.3 L423.0,625.3 L429.0,638.4 L435.0,636.5 L441.0,624.5 L447.0,610.1 L453.0,607.6 L459.0,624.5 L465.0,642.7 L471.0,653.6 L477.0,661.8 L483.0,670.5 L489.0,652.6 L495.0,647.4 L501.0,635.7 L507.0,637.7 L513.0,642.7 L519.0,650.1 L525.0,635.7 L531.0,631.5 L537.0,633.0 L543.0,628.7 L549.0,622.0 L555.0,640.7 L561.0,627.0 L567.0,631.5 L573.0,641.2 L579.0,653.6 L585.0,662.3 L591.0,666.8 L597.0,663.3 L603.0,665.5 L609.0,664.8 L615.0,645.6 L621.0,645.6 L627.0,648.4 L633.0,636.9 L639.0,627.0 L645.0,611.4 L651.0,601.7 L657.0,588.7 L663.0,584.3 L669.0,597.9 L675.0,600.9 L681.0,606.6 L687.0,601.4 L693.0,598.4 L699.0,603.9 L705.0,593.0 L711.0,586.5 L717.0,601.7 L723.0,590.2 L729.0,605.9 L735.0,620.0 L741.0,622.8 L747.0,625.8 L753.0,621.3 L759.0,611.6 L765.0,617.1 L771.0,617.8 L777.0,614.1 L783.0,636.5 L789.0,639.4 L795.0,643.7 L801.0,633.2 L807.0,615.3 L813.0,610.6 L819.0,612.3 L825.0,613.6 L831.0,628.7 L837.0,636.5 L843.0,644.9 L849.0,649.9 L855.0,648.4 L861.0,659.3 L867.0,659.6 L873.0,641.9 L879.0,628.7 L885.0,624.0 L891.0,612.3 L897.0,613.3 L903.0,607.1 L909.0,625.3 L915.0,619.1 L921.0,612.1 L927.0,604.6 L933.0,599.2 L939.0,593.5 L945.0,581.8 L951.0,580.5 L957.0,579.0 L963.0,575.6 L969.0,577.3 L975.0,566.4 L981.0,593.0 L987.0,600.2 L993.0,612.1 L999.0,607.6 L1005.0,591.0 L1011.0,589.7 L1017.0,612.1 L1023.0,633.2 L1029.0,638.2 L1035.0,629.0 L1041.0,620.8 L1047.0,618.6 L1053.0,632.5 L1059.0,604.6 L1065.0,613.3 L1071.0,615.3 L1077.0,620.3 L1083.0,633.2 L1089.0,639.4 L1095.0,619.6 L1101.0,618.6 L1107.0,619.6 L1113.0,624.5 L1119.0,604.6 L1125.0,602.2 L1131.0,605.9 L1137.0,609.1 L1143.0,602.2 L1149.0,592.2 L1155.0,593.0 L1161.0,575.3 L1167.0,571.8 L1173.0,569.9 L1179.0,586.0 L1185.0,586.5 L1191.0,586.3 L1197.0,566.6 L1203.0,557.4 L1209.0,556.4 L1215.0,571.6 L1221.0,572.3 L1227.0,566.1 L1233.0,589.7 L1239.0,612.6 L1245.0,619.6 L1251.0,618.3 L1257.0,626.3 L1263.0,639.9 L1269.0,636.5 L1275.0,633.0 L1281.0,634.7 L1287.0,631.2 L1293.0,643.2 L1299.0,653.6 L1305.0,655.6 L1311.0,661.1 L1317.0,660.6 L1323.0,663.8 L1329.0,646.1 L1335.0,651.1 L1341.0,675.2 L1347.0,663.8 L1353.0,659.3 L1359.0,652.6 L1365.0,651.4 L1371.0,645.1 L1377.0,651.9 L1383.0,636.2 L1389.0,638.4 L1395.0,641.2 L1401.0,638.7 L1407.0,629.5 L1413.0,656.1 L1419.0,658.1 L1425.0,674.2 L1431.0,650.6 L1437.0,643.2 L1443.0,636.2 L1449.0,640.7 L1455.0,645.6 L1461.0,649.9 L1467.0,654.3 L1473.0,637.9 L1479.0,639.4 L1485.0,596.7 L1491.0,592.7 L1497.0,584.3 L1503.0,594.7 L1509.0,591.5 L1515.0,591.0 L1521.0,576.1 L1527.0,586.0 L1533.0,587.7 L1539.0,583.5 L1545.0,589.7 L1551.0,604.6 L1557.0,595.4 L1563.0,589.7 L1569.0,589.7 L1575.0,595.2 L1581.0,597.7 L1587.0,615.1 L1593.0,603.4 L1599.0,598.9 L1599,572.5 L-3,572.5 Z" fill="#4caf50" fill-opacity="0.12" stroke="none" clip-path="url(#ob)"/>
<path d="M0.0,597.2 L3.0,597.9 L6.0,598.6 L9.0,599.3 L12.0,600.0 L15.0,600.7 L18.0,601.3 L21.0,601.9 L24.0,602.4 L27.0,602.8 L30.0,603.2 L33.0,603.5 L36.0,603.9 L39.0,604.5 L42.0,605.2 L45.0,605.9 L48.0,606.8 L51.0,607.9 L54.0,609.1 L57.0,610.4 L60.0,611.7 L63.0,613.2 L66.0,614.8 L69.0,616.4 L72.0,618.1 L75.0,619.6 L78.0,621.0 L81.0,622.4 L84.0,623.7 L87.0,625.0 L90.0,626.2 L93.0,627.4 L96.0,628.6 L99.0,629.6 L102.0,630.5 L105.0,631.2 L108.0,631.8 L111.0,632.4 L114.0,632.8 L117.0,633.1 L120.0,633.4 L123.0,633.6 L126.0,633.7 L129.0,633.8 L132.0,633.8 L135.0,633.5 L138.0,633.1 L141.0,632.3 L144.0,631.3 L147.0,630.2 L150.0,629.1 L153.0,628.0 L156.0,627.1 L159.0,626.3 L162.0,625.5 L165.0,624.5 L168.0,623.5 L171.0,622.4 L174.0,621.2 L177.0,619.9 L180.0,618.6 L183.0,617.3 L186.0,615.9 L189.0,614.5 L192.0,613.2 L195.0,611.9 L198.0,610.6 L201.0,609.5 L204.0,608.4 L207.0,607.0 L210.0,605.4 L213.0,603.7 L216.0,601.8 L219.0,599.9 L222.0,598.1 L225.0,596.3 L228.0,594.5 L231.0,592.9 L234.0,591.3 L237.0,589.6 L240.0,587.9 L243.0,586.1 L246.0,584.5 L249.0,583.2 L252.0,582.4 L255.0,582.1 L258.0,582.2 L261.0,582.6 L264.0,583.3 L267.0,584.1 L270.0,585.0 L273.0,586.0 L276.0,586.9 L279.0,587.9 L282.0,588.8 L285.0,589.8 L288.0,590.7 L291.0,591.9 L294.0,593.3 L297.0,594.8 L300.0,596.4 L303.0,598.1 L306.0,599.9 L309.0,601.7 L312.0,603.5 L315.0,605.4 L318.0,607.2 L321.0,609.0 L324.0,610.8 L327.0,612.5 L330.0,614.1 L333.0,615.6 L336.0,616.9 L339.0,617.9 L342.0,618.7 L345.0,619.5 L348.0,620.2 L351.0,620.9 L354.0,621.5 L357.0,622.1 L360.0,622.7 L363.0,623.3 L366.0,623.8 L369.0,624.3 L372.0,624.9 L375.0,625.5 L378.0,626.1 L381.0,626.7 L384.0,627.4 L387.0,628.2 L390.0,629.1 L393.0,630.0 L396.0,630.8 L399.0,631.5 L402.0,632.1 L405.0,632.5 L408.0,632.8 L411.0,633.1 L414.0,633.2 L417.0,633.2 L420.0,633.3 L423.0,633.5 L426.0,633.9 L429.0,634.3 L432.0,634.5 L435.0,634.5 L438.0,634.2 L441.0,633.7 L444.0,633.1 L447.0,632.4 L450.0,631.7 L453.0,631.2 L456.0,630.9 L459.0,630.9 L462.0,631.0 L465.0,631.4 L468.0,631.9 L471.0,632.4 L474.0,633.0 L477.0,633.5 L480.0,634.0 L483.0,634.5 L486.0,635.0 L489.0,635.5 L492.0,636.1 L495.0,636.6 L498.0,637.1 L501.0,637.5 L504.0,637.9 L507.0,638.3 L510.0,638.7 L513.0,639.1 L516.0,639.5 L519.0,639.9 L522.0,640.4 L525.0,640.9 L528.0,641.6 L531.0,642.3 L534.0,643.1 L537.0,643.6 L540.0,644.0 L543.0,644.1 L546.0,643.9 L549.0,643.4 L552.0,642.8 L555.0,641.9 L558.0,640.8 L561.0,639.6 L564.0,638.5 L567.0,637.6 L570.0,637.0 L573.0,636.7 L576.0,636.8 L579.0,637.2 L582.0,637.9 L585.0,638.7 L588.0,639.5 L591.0,640.4 L594.0,641.1 L597.0,641.9 L600.0,642.6 L603.0,643.4 L606.0,644.1 L609.0,644.8 L612.0,645.3 L615.0,645.8 L618.0,646.3 L621.0,646.9 L624.0,647.6 L627.0,648.2 L630.0,648.7 L633.0,649.0 L636.0,648.9 L639.0,648.5 L642.0,647.9 L645.0,647.0 L648.0,646.0 L651.0,644.6 L654.0,642.9 L657.0,641.0 L660.0,638.8 L663.0,636.5 L666.0,634.3 L669.0,632.0 L672.0,629.9 L675.0,627.8 L678.0,625.6 L681.0,623.4 L684.0,621.2 L687.0,619.0 L690.0,616.8 L693.0,614.7 L696.0,612.8 L699.0,611.0 L702.0,609.2 L705.0,607.4 L708.0,605.6 L711.0,603.8 L714.0,602.1 L717.0,600.6 L720.0,599.3 L723.0,598.2 L726.0,597.6 L729.0,597.6 L732.0,598.1 L735.0,599.0 L738.0,600.1 L741.0,601.3 L744.0,602.4 L747.0,603.5 L750.0,604.3 L753.0,605.1 L756.0,605.7 L759.0,606.2 L762.0,606.7 L765.0,607.2 L768.0,607.7 L771.0,608.4 L774.0,609.2 L777.0,610.1 L780.0,611.1 L783.0,612.4 L786.0,613.7 L789.0,615.1 L792.0,616.6 L795.0,618.0 L798.0,619.4 L801.0,620.6 L804.0,621.6 L807.0,622.4 L810.0,622.9 L813.0,623.1 L816.0,623.2 L819.0,623.1 L822.0,623.0 L825.0,622.8 L828.0,622.9 L831.0,623.1 L834.0,623.5 L837.0,624.2 L840.0,625.0 L843.0,625.9 L846.0,627.0 L849.0,628.1 L852.0,629.3 L855.0,630.4 L858.0,631.6 L861.0,632.7 L864.0,633.6 L867.0,634.4 L870.0,634.8 L873.0,634.9 L876.0,634.8 L879.0,634.6 L882.0,634.3 L885.0,633.9 L888.0,633.6 L891.0,633.4 L894.0,633.3 L897.0,633.3 L900.0,633.4 L903.0,633.5 L906.0,633.6 L909.0,633.6 L912.0,633.4 L915.0,632.9 L918.0,632.1 L921.0,631.1 L924.0,629.8 L927.0,628.4 L930.0,626.7 L933.0,625.0 L936.0,623.1 L939.0,621.0 L942.0,618.7 L945.0,616.2 L948.0,613.7 L951.0,611.2 L954.0,608.9 L957.0,606.7 L960.0,604.7 L963.0,602.8 L966.0,601.0 L969.0,599.4 L972.0,597.8 L975.0,596.4 L978.0,595.3 L981.0,594.5 L984.0,593.9 L987.0,593.4 L990.0,592.9 L993.0,592.4 L996.0,591.9 L999.0,591.3 L1002.0,590.7 L1005.0,590.2 L1008.0,589.9 L1011.0,589.8 L1014.0,590.2 L1017.0,591.0 L1020.0,592.2 L1023.0,593.7 L1026.0,595.3 L1029.0,597.0 L1032.0,598.7 L1035.0,600.4 L1038.0,602.0 L1041.0,603.7 L1044.0,605.4 L1047.0,607.1 L1050.0,608.7 L1053.0,610.2 L1056.0,611.5 L1059.0,612.6 L1062.0,613.4 L1065.0,614.1 L1068.0,614.8 L1071.0,615.4 L1074.0,616.0 L1077.0,616.7 L1080.0,617.6 L1083.0,618.7 L1086.0,619.9 L1089.0,621.2 L1092.0,622.3 L1095.0,623.1 L1098.0,623.5 L1101.0,623.5 L1104.0,623.3 L1107.0,622.9 L1110.0,622.3 L1113.0,621.6 L1116.0,620.8 L1119.0,620.1 L1122.0,619.5 L1125.0,618.9 L1128.0,618.4 L1131.0,617.9 L1134.0,617.4 L1137.0,616.9 L1140.0,616.5 L1143.0,616.1 L1146.0,615.6 L1149.0,615.0 L1152.0,614.2 L1155.0,613.2 L1158.0,611.9 L1161.0,610.3 L1164.0,608.3 L1167.0,606.1 L1170.0,603.8 L1173.0,601.7 L1176.0,600.0 L1179.0,598.6 L1182.0,597.3 L1185.0,596.1 L1188.0,594.9 L1191.0,593.5 L1194.0,591.8 L1197.0,590.0 L1200.0,588.3 L1203.0,586.5 L1206.0,584.9 L1209.0,583.3 L1212.0,581.9 L1215.0,580.6 L1218.0,579.3 L1221.0,578.1 L1224.0,576.9 L1227.0,576.0 L1230.0,575.5 L1233.0,575.5 L1236.0,576.1 L1239.0,577.0 L1242.0,578.4 L1245.0,580.0 L1248.0,581.7 L1251.0,583.5 L1254.0,585.3 L1257.0,587.2 L1260.0,589.1 L1263.0,590.9 L1266.0,592.8 L1269.0,594.5 L1272.0,596.3 L1275.0,598.2 L1278.0,600.5 L1281.0,603.0 L1284.0,605.6 L1287.0,608.3 L1290.0,611.1 L1293.0,614.0 L1296.0,616.9 L1299.0,620.0 L1302.0,623.2 L1305.0,626.2 L1308.0,629.2 L1311.0,631.9 L1314.0,634.5 L1317.0,636.8 L1320.0,638.8 L1323.0,640.5 L1326.0,641.9 L1329.0,643.2 L1332.0,644.4 L1335.0,645.8 L1338.0,647.2 L1341.0,648.5 L1344.0,649.6 L1347.0,650.6 L1350.0,651.4 L1353.0,652.3 L1356.0,653.1 L1359.0,653.9 L1362.0,654.6 L1365.0,655.2 L1368.0,655.7 L1371.0,656.0 L1374.0,656.2 L1377.0,656.2 L1380.0,655.8 L1383.0,655.3 L1386.0,654.7 L1389.0,654.0 L1392.0,653.4 L1395.0,652.7 L1398.0,651.9 L1401.0,650.9 L1404.0,650.0 L1407.0,649.3 L1410.0,649.1 L1413.0,649.2 L1416.0,649.4 L1419.0,649.5 L1422.0,649.4 L1425.0,649.3 L1428.0,648.9 L1431.0,648.3 L1434.0,647.7 L1437.0,647.1 L1440.0,646.6 L1443.0,646.2 L1446.0,645.9 L1449.0,645.6 L1452.0,645.5 L1455.0,645.6 L1458.0,645.7 L1461.0,645.9 L1464.0,646.2 L1467.0,646.5 L1470.0,646.6 L1473.0,646.6 L1476.0,646.4 L1479.0,645.9 L1482.0,645.0 L1485.0,643.8 L1488.0,642.3 L1491.0,640.5 L1494.0,638.4 L1497.0,636.1 L1500.0,633.7 L1503.0,631.1 L1506.0,628.5 L1509.0,626.0 L1512.0,623.6 L1515.0,621.3 L1518.0,619.0 L1521.0,616.8 L1524.0,614.6 L1527.0,612.6 L1530.0,610.5 L1533.0,608.4 L1536.0,606.2 L1539.0,604.0 L1542.0,601.8 L1545.0,599.6 L1548.0,597.6 L1551.0,595.8 L1554.0,594.1 L1557.0,592.5 L1560.0,591.2 L1563.0,590.2 L1566.0,589.7 L1569.0,589.6 L1572.0,589.8 L1575.0,590.1 L1578.0,590.6 L1581.0,591.2 L1584.0,591.7 L1587.0,592.2 L1590.0,592.6 L1593.0,592.9 L1596.0,593.2 L1599.0,593.5" stroke="#fdd835" stroke-width="1.1"/>
<path d="M-3.0,601.7 L3.0,605.9 L9.0,590.5 L15.0,600.9 L21.0,618.8 L27.0,619.6 L33.0,612.1 L39.0,610.1 L45.0,618.3 L51.0,629.5 L57.0,641.4 L63.0,649.4 L69.0,656.1 L75.0,640.2 L81.0,636.9 L87.0,636.0 L93.0,623.8 L99.0,629.5 L105.0,642.4 L111.0,632.7 L117.0,622.5 L123.0,612.6 L129.0,625.8 L135.0,627.0 L141.0,623.3 L147.0,614.6 L153.0,619.1 L159.0,622.0 L165.0,627.0 L171.0,602.9 L177.0,592.2 L183.0,590.5 L189.0,598.9 L195.0,584.0 L201.0,592.2 L207.0,590.5 L213.0,570.1 L219.0,571.6 L225.0,573.6 L231.0,568.1 L237.0,575.1 L243.0,574.3 L249.0,569.4 L255.0,590.5 L261.0,600.2 L267.0,619.6 L273.0,616.1 L279.0,623.0 L285.0,615.3 L291.0,616.3 L297.0,622.0 L303.0,617.8 L309.0,617.6 L315.0,620.3 L321.0,629.0 L327.0,621.3 L333.0,629.0 L339.0,614.6 L345.0,621.3 L351.0,636.2 L357.0,630.0 L363.0,638.4 L369.0,632.5 L375.0,632.7 L381.0,634.0 L387.0,631.5 L393.0,644.4 L399.0,654.3 L405.0,639.9 L411.0,623.5 L417.0,626.3 L423.0,625.3 L429.0,638.4 L435.0,636.5 L441.0,624.5 L447.0,610.1 L453.0,607.6 L459.0,624.5 L465.0,642.7 L471.0,653.6 L477.0,661.8 L483.0,670.5 L489.0,652.6 L495.0,647.4 L501.0,635.7 L507.0,637.7 L513.0,642.7 L519.0,650.1 L525.0,635.7 L531.0,631.5 L537.0,633.0 L543.0,628.7 L549.0,622.0 L555.0,640.7 L561.0,627.0 L567.0,631.5 L573.0,641.2 L579.0,653.6 L585.0,662.3 L591.0,666.8 L597.0,663.3 L603.0,665.5 L609.0,664.8 L615.0,645.6 L621.0,645.6 L627.0,648.4 L633.0,636.9 L639.0,627.0 L645.0,611.4 L651.0,601.7 L657.0,588.7 L663.0,584.3 L669.0,597.9 L675.0,600.9 L681.0,606.6 L687.0,601.4 L693.0,598.4 L699.0,603.9 L705.0,593.0 L711.0,586.5 L717.0,601.7 L723.0,590.2 L729.0,605.9 L735.0,620.0 L741.0,622.8 L747.0,625.8 L753.0,621.3 L759.0,611.6 L765.0,617.1 L771.0,617.8 L777.0,614.1 L783.0,636.5 L789.0,639.4 L795.0,643.7 L801.0,633.2 L807.0,615.3 L813.0,610.6 L819.0,612.3 L825.0,613.6 L831.0,628.7 L837.0,636.5 L843.0,644.9 L849.0,649.9 L855.0,648.4 L861.0,659.3 L867.0,659.6 L873.0,641.9 L879.0,628.7 L885.0,624.0 L891.0,612.3 L897.0,613.3 L903.0,607.1 L909.0,625.3 L915.0,619.1 L921.0,612.1 L927.0,604.6 L933.0,599.2 L939.0,593.5 L945.0,581.8 L951.0,580.5 L957.0,579.0 L963.0,575.6 L969.0,577.3 L975.0,566.4 L981.0,593.0 L987.0,600.2 L993.0,612.1 L999.0,607.6 L1005.0,591.0 L1011.0,589.7 L1017.0,612.1 L1023.0,633.2 L1029.0,638.2 L1035.0,629.0 L1041.0,620.8 L1047.0,618.6 L1053.0,632.5 L1059.0,604.6 L1065.0,613.3 L1071.0,615.3 L1077.0,620.3 L1083.0,633.2 L1089.0,639.4 L1095.0,619.6 L1101.0,618.6 L1107.0,619.6 L1113.0,624.5 L1119.0,604.6 L1125.0,602.2 L1131.0,605.9 L1137.0,609.1 L1143.0,602.2 L1149.0,592.2 L1155.0,593.0 L1161.0,575.3 L1167.0,571.8 L1173.0,569.9 L1179.0,586.0 L1185.0,586.5 L1191.0,586.3 L1197.0,566.6 L1203.0,557.4 L1209.0,556.4 L1215.0,571.6 L1221.0,572.3 L1227.0,566.1 L1233.0,589.7 L1239.0,612.6 L1245.0,619.6 L1251.0,618.3 L1257.0,626.3 L1263.0,639.9 L1269.0,636.5 L1275.0,633.0 L1281.0,634.7 L1287.0,631.2 L1293.0,643.2 L1299.0,653.6 L1305.0,655.6 L1311.0,661.1 L1317.0,660.6 L1323.0,663.8 L1329.0,646.1 L1335.0,651.1 L1341.0,675.2 L1347.0,663.8 L1353.0,659.3 L1359.0,652.6 L1365.0,651.4 L1371.0,645.1 L1377.0,651.9 L1383.0,636.2 L1389.0,638.4 L1395.0,641.2 L1401.0,638.7 L1407.0,629.5 L1413.0,656.1 L1419.0,658.1 L1425.0,674.2 L1431.0,650.6 L1437.0,643.2 L1443.0,636.2 L1449.0,640.7 L1455.0,645.6 L1461.0,649.9 L1467.0,654.3 L1473.0,637.9 L1479.0,639.4 L1485.0,596.7 L1491.0,592.7 L1497.0,584.3 L1503.0,594.7 L1509.0,591.5 L1515.0,591.0 L1521.0,576.1 L1527.0,586.0 L1533.0,587.7 L1539.0,583.5 L1545.0,589.7 L1551.0,604.6 L1557.0,595.4 L1563.0,589.7 L1569.0,589.7 L1575.0,595.2 L1581.0,597.7 L1587.0,615.1 L1593.0,603.4 L1599.0,598.9" stroke="#7e57c2" stroke-width="1.1"/>
</g>
</svg>
<!-- header -->
<div class="abs" style="left:0;top:70px;width:382px;height:24px;background:rgba(255,255,255,0.5)"></div>
<svg class="abs" style="left:0;top:0" width="30" height="30" viewBox="0 0 30 30"><circle cx="16" cy="15.900" r="9" fill="#d4990a"/><path d="M13.800 12.300H18.400L20.100 15.500H12Z M10.800 16.200H14.700L16 19H9Z M17.200 16.200H21.100L22.900 19H16Z" fill="#fff"/></svg>
<div class="abs" id="title" style="left:29.500px;top:6.600px;font-size:16px;line-height:19px;letter-spacing:-0.75px;word-spacing:0.800px">CFDs on Gold (US$ / OZ) · 4h · TVC</div>
<div class="abs" style="left:288px;top:7px;width:20px;height:17.600px;border-radius:8.800px 0 0 8.800px;background:#def2ee"></div>
<div class="abs" style="left:308px;top:7px;width:20px;height:17.600px;border-radius:0 8.800px 8.800px 0;background:#f8c8dc"></div>
<div class="abs" style="left:294.800px;top:11.900px;width:8px;height:8px;border-radius:50%;background:#119988"></div>
<div class="abs" style="left:312.800px;top:6px;font-size:15.500px;line-height:19px;color:#e91e63;font-weight:bold">≈</div>
<div class="abs" id="ohlc" style="left:0;top:9px;font-size:13px;line-height:15px;color:#4caf50"><span class="abs" style="left:345px"><span style="color:#131722">O</span>3,371.630</span><span class="abs" style="left:418px"><span style="color:#131722">H</span>3,377.420</span><span class="abs" style="left:492px;letter-spacing:-0.1px"><span style="color:#131722">L</span>3,369.315</span><span class="abs" style="left:562px;letter-spacing:-0.15px"><span style="color:#131722">C</span>3,376.913</span><span class="abs" id="chg" style="left:634px;letter-spacing:-0.3px">+5.253 (+0.16%)</span></div>
<!-- buy/sell -->
<div class="abs" style="left:6px;top:32px;width:78px;height:32px;border:1px solid #f23645;border-radius:4px;background:#fff;text-align:center;color:#f23645"><div style="font-size:12.700px;font-weight:bold;line-height:15px;margin-top:2.200px">3,376.763</div><div style="font-size:10px;line-height:13px;margin-top:-0.200px;letter-spacing:-0.2px">SELL</div></div>
<div class="abs" style="left:92px;top:42.800px;width:20px;text-align:center;font-size:9.300px;line-height:12px">274</div>
<div class="abs" style="left:118px;top:32px;width:78px;height:32px;border:1px solid #2962ff;border-radius:4px;background:#fff;text-align:center;color:#2962ff"><div style="font-size:12.700px;font-weight:bold;line-height:15px;margin-top:2.200px">3,377.037</div><div style="font-size:10px;line-height:13px;margin-top:-0.200px;letter-spacing:-0.2px">BUY</div></div>
<!-- SMA legend -->
<div class="abs" id="sma" style="left:0;top:75px;font-size:12.700px;line-height:16px"><span class="abs" id="smal" style="left:7.300px;letter-spacing:0.15px">SMA 20/50/100/200</span><span class="abs" style="left:130.300px;color:#2962ff">3,367.716</span><span class="abs" style="left:193.700px;color:#ff9800">3,335.264</span><span class="abs" style="left:256.900px;color:#81c784">3,350.805</span><span class="abs" id="smar" style="left:320.300px;color:#ff1f1f">3,339.962</span></div>
<div class="abs" style="left:4px;top:97px;width:27px;height:19px;border:1px solid #e0e3eb;border-radius:3px;background:#fff"></div>
<svg class="abs" style="left:13px;top:103px" width="11" height="8" viewBox="0 0 11 8"><path d="M1.500 6.500L5.500 2.500L9.500 6.500" fill="none" stroke="#131722" stroke-width="1.300"/></svg>
<!-- RSI legend -->
<div class="abs" style="left:0;top:551px;font-size:12.500px;line-height:16px"><span class="abs" style="left:7.500px;display:inline-block;transform:scaleX(0.78);transform-origin:left center">RSI</span><span class="abs" style="left:32.800px;color:#7e57c2">58.56</span><span class="abs" style="left:70.800px;color:#fdd835">60.78</span></div>
<!-- TV logo -->
<svg class="abs" style="left:0;top:650px" width="180" height="36" viewBox="0 650 180 36"><g stroke="#fff" stroke-width="3" stroke-linejoin="round" paint-order="stroke" fill="#131722"><path d="M9.700 659.200H22V673.800H15.900V664.400H9.700Z"/><circle cx="26.800" cy="662.100" r="3"/><path d="M31.600 659.200H39.800L34.300 673.800H26.100Z"/><text id="tv" x="47.200" y="673.800" font-family="Liberation Sans, sans-serif" font-weight="bold" font-size="20.400" letter-spacing="-0.08">TradingView</text></g></svg>
<!-- price axis -->
<div class="pl" style="top:30px">3,460.000</div>
<div class="pl" style="top:73px">3,440.000</div>
<div class="pl" style="top:116px">3,420.000</div>
<div class="pl" style="top:159px">3,400.000</div>
<div class="pl" style="top:288px">3,340.000</div>
<div class="pl" style="top:331px">3,320.000</div>
<div class="pl" style="top:374px">3,300.000</div>
<div class="pl" style="top:417px">3,280.000</div>
<div class="pl" style="top:460px">3,260.000</div>
<div class="pl" style="top:503px">3,240.000</div>
<div class="pl" style="top:541px">80.00</div>
<div class="pl" style="top:589px">60.00</div>
<div class="pl" style="top:637px">40.00</div>
<div class="abs" style="left:1742px;top:0;width:69px;height:34.400px;background:#fff"></div>
<div class="abs" style="left:1745.500px;top:4.200px;width:63px;height:25.500px;border:1px solid #e6e8ee;border-radius:4px;background:#fff;box-sizing:border-box"></div>
<div class="abs" style="left:1748.300px;top:10.300px;font-size:12px;line-height:14px;transform:scaleX(0.88);transform-origin:left center">USD</div>
<svg class="abs" style="left:1797px;top:14.500px" width="9" height="6" viewBox="0 0 9 6"><path d="M2.200 1.600L4.600 3.900L7 1.600" fill="none" stroke="#131722" stroke-width="1.100"/></svg>
<div class="abs" style="left:1742px;top:201px;width:66px;height:17px;background:#505050;color:#fff;font-size:12px;font-weight:bold;line-height:15px;padding-left:8px;box-sizing:border-box;border-radius:2px 2px 0 0">3,380.310</div>
<div class="abs" style="left:1742px;top:218px;width:66px;height:44.800px;background:#4caf50;color:#fff;font-size:12px;line-height:14px;padding:1px 0 0 8px;box-sizing:border-box;border-radius:0 0 2px 2px"><div style="font-weight:bold;letter-spacing:-0.1px">3,376.913</div><div style="font-weight:bold;letter-spacing:-0.7px">+0.09%</div><div style="color:rgba(255,255,255,0.72)">03:19:40</div></div>
<div class="abs" style="left:1703.300px;top:218.200px;width:37.500px;height:16.500px;background:#4caf50;border-radius:2px"></div>
<div class="abs" style="left:1707.400px;top:219.500px;color:#fff;font-size:12px;line-height:14px;transform:scaleX(0.87);transform-origin:left center">GOLD</div>
<!-- icons -->
<svg class="abs" style="left:1585px;top:514px" width="30" height="30" viewBox="1585 514 30 30"><path d="M1602.200 519.100A9.600 9.600 0 1 0 1608.900 526" fill="none" stroke="#9826ad" stroke-width="1.500" stroke-linecap="round"/><path d="M1601.700 523L1595.200 528.700L1599.700 529L1596.300 533.800L1603.800 528.200L1599.300 527.800Z" fill="#9826ad"/><circle cx="1606.400" cy="521.500" r="2.600" fill="#f23645"/></svg>
<div class="abs" style="left:1724px;top:514px;width:17px;height:28px;overflow:hidden"><svg width="30" height="28" viewBox="1724 514 30 28"><defs><clipPath id="fc"><circle cx="1737.300" cy="528" r="8.600"/></clipPath></defs><circle cx="1737.300" cy="528" r="10.400" fill="#fff" stroke="#f23645" stroke-width="1.300"/><g clip-path="url(#fc)"><rect x="1728" y="520.600" width="20" height="1.600" fill="#ef5350"/><rect x="1728" y="525.500" width="20" height="4.200" fill="#ef5350"/><rect x="1728" y="532" width="20" height="4.200" fill="#ef5350"/><rect x="1728" y="519" width="11" height="10.800" fill="#2196f3"/><g fill="#fff" fill-opacity="0.85"><rect x="1731.400" y="519" width="0.700" height="10.800"/><rect x="1733.800" y="519" width="0.700" height="10.800"/><rect x="1736.200" y="519" width="0.700" height="10.800"/><rect x="1728" y="522.300" width="11" height="0.700"/><rect x="1728" y="524.800" width="11" height="0.700"/><rect x="1728" y="527.300" width="11" height="0.700"/></g></g></svg></div>
<svg class="abs" style="left:1769px;top:694px" width="17" height="17" viewBox="0 0 17 17"><path d="M5 2h7l3.500 6.500L12 15H5L1.500 8.500z" fill="none" stroke="#131722" stroke-width="1.200"/><circle cx="8.500" cy="8.500" r="2" fill="none" stroke="#131722" stroke-width="1.200"/></svg>
<!-- time axis -->
<div class="tl" style="left:33px">6</div><div class="tl" style="left:105px">10</div><div class="tl" style="left:177px">12</div><div class="tl" style="left:249px">16</div><div class="tl" style="left:321px">18</div><div class="tl" style="left:393px">20</div><div class="tl" style="left:465px">24</div><div class="tl" style="left:537px">26</div><div class="tl" style="left:645px;font-weight:bold">Jul</div><div class="tl" style="left:717px">3</div><div class="tl" style="left:783px">7</div><div class="tl" style="left:855px">9</div><div class="tl" style="left:927px">11</div><div class="tl" style="left:999px">15</div><div class="tl" style="left:1071px">17</div><div class="tl" style="left:1143px">21</div><div class="tl" style="left:1215px">23</div><div class="tl" style="left:1287px">25</div><div class="tl" style="left:1359px">29</div><div class="tl" style="left:1467px;font-weight:bold">Aug</div><div class="tl" style="left:1539px">5</div><div class="tl" style="left:1611px">7</div><div class="tl" style="left:1683px">11</div>
</body></html>
